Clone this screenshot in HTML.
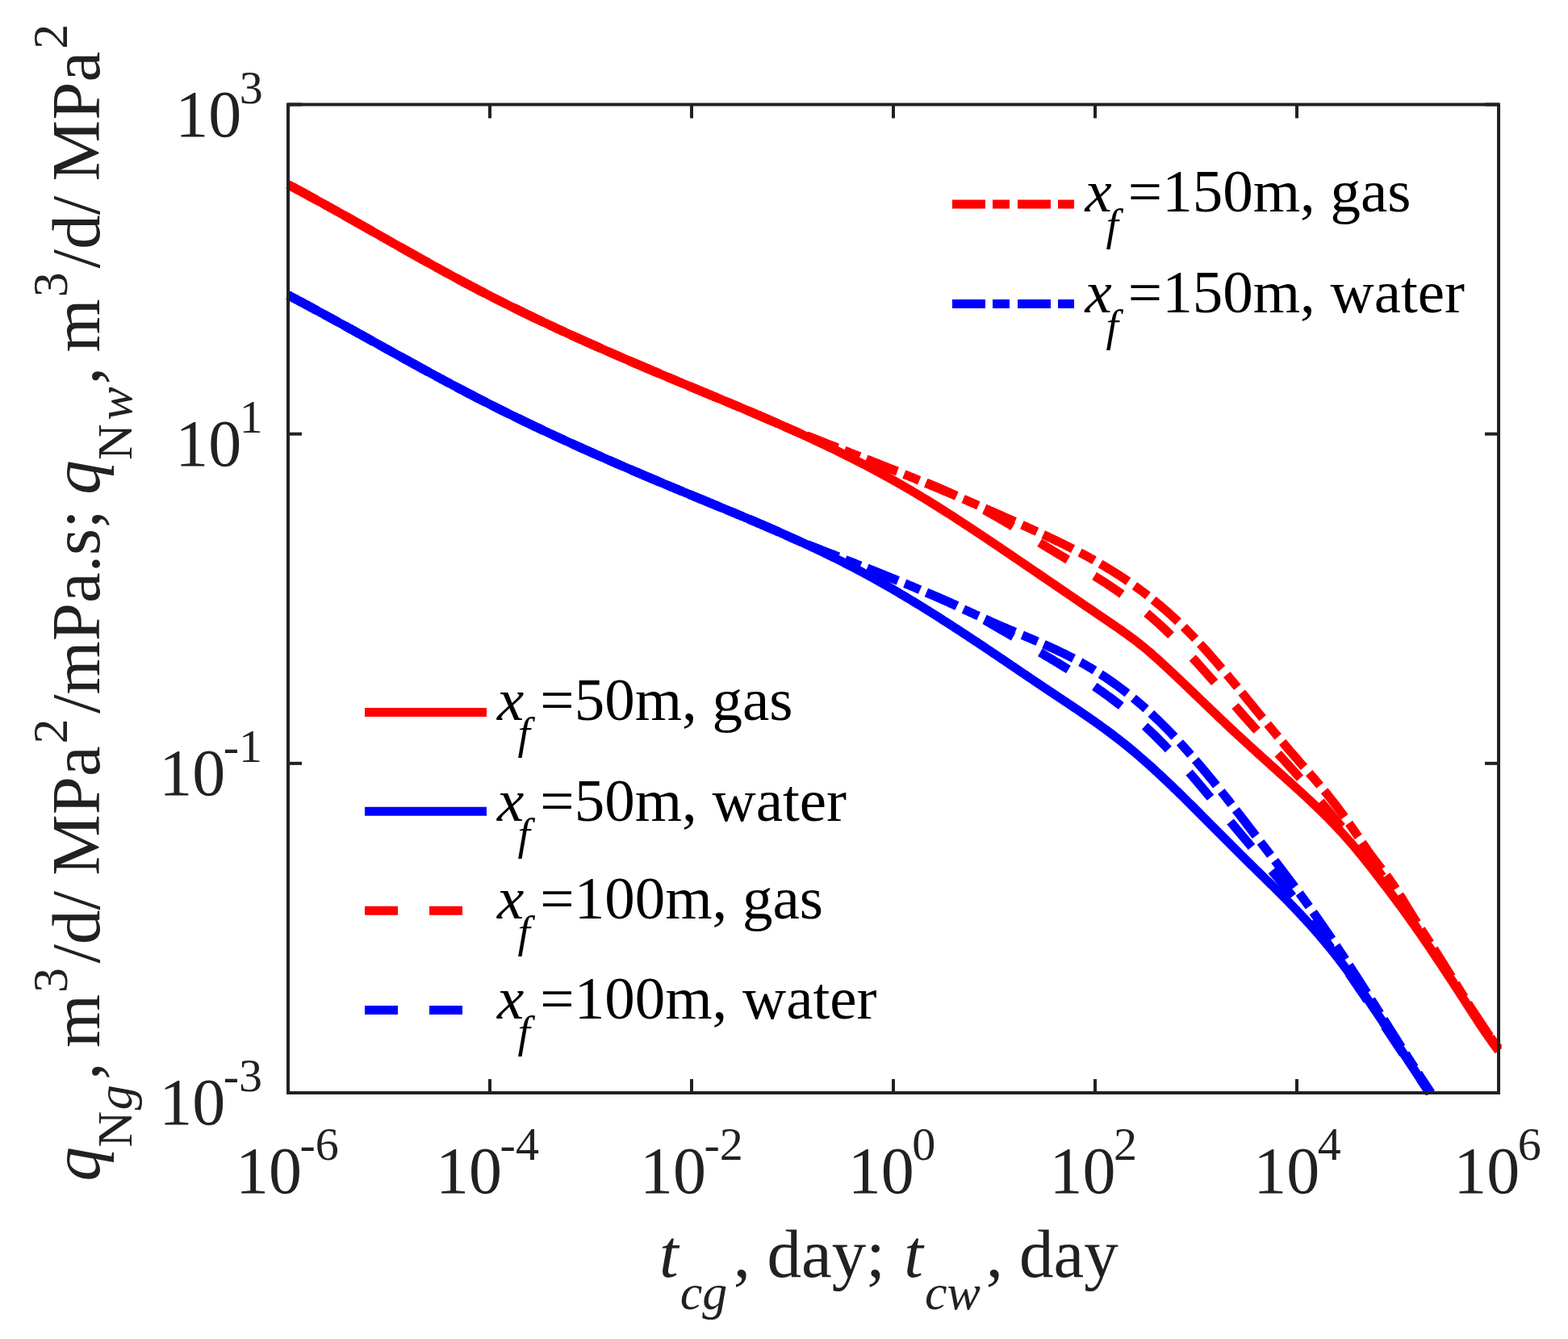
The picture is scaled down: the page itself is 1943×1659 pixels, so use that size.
<!DOCTYPE html>
<html><head><meta charset="utf-8"><title>Rate decline plot</title>
<style>
html,body{margin:0;padding:0;background:#fff;overflow:hidden;}
svg{display:block;}
text{font-family:"Liberation Serif","Times New Roman",serif;fill:#212121;}
</style></head><body>
<svg xmlns="http://www.w3.org/2000/svg" width="1943" height="1659" viewBox="0 0 1943 1659">
<rect width="1943" height="1659" fill="#fff"/>
<defs><clipPath id="pa"><rect x="349.0" y="129.5" width="1516.0" height="1232.5"/></clipPath></defs>
<g clip-path="url(#pa)" fill="none" stroke-width="11" stroke-linejoin="round">
<path d="M357.00,228.70 L359.00,229.76 L361.00,230.83 L363.00,231.90 L365.00,232.97 L367.00,234.05 L369.00,235.12 L371.00,236.20 L373.00,237.29 L375.00,238.37 L377.00,239.45 L379.00,240.54 L381.00,241.63 L383.00,242.72 L385.00,243.82 L387.00,244.91 L389.00,246.01 L391.00,247.11 L393.00,248.21 L395.00,249.32 L397.00,250.42 L399.00,251.53 L401.00,252.63 L403.00,253.74 L405.00,254.85 L407.00,255.97 L409.00,257.08 L411.00,258.19 L413.00,259.31 L415.00,260.43 L417.00,261.55 L419.00,262.67 L421.00,263.79 L423.00,264.91 L425.00,266.03 L427.00,267.16 L429.00,268.28 L431.00,269.41 L433.00,270.53 L435.00,271.66 L437.00,272.79 L439.00,273.92 L441.00,275.05 L443.00,276.18 L445.00,277.31 L447.00,278.44 L449.00,279.57 L451.00,280.70 L453.00,281.83 L455.00,282.97 L457.00,284.10 L459.00,285.23 L461.00,286.36 L463.00,287.50 L465.00,288.63 L467.00,289.77 L469.00,290.90 L471.00,292.03 L473.00,293.17 L475.00,294.30 L477.00,295.43 L479.00,296.57 L481.00,297.70 L483.00,298.83 L485.00,299.96 L487.00,301.09 L489.00,302.22 L491.00,303.36 L493.00,304.49 L495.00,305.61 L497.00,306.74 L499.00,307.87 L501.00,309.00 L503.00,310.13 L505.00,311.25 L507.00,312.38 L509.00,313.50 L511.00,314.62 L513.00,315.75 L515.00,316.87 L517.00,317.99 L519.00,319.11 L521.00,320.22 L523.00,321.34 L525.00,322.45 L527.00,323.57 L529.00,324.68 L531.00,325.79 L533.00,326.90 L535.00,328.01 L537.00,329.12 L539.00,330.22 L541.00,331.32 L543.00,332.42 L545.00,333.52 L547.00,334.62 L549.00,335.72 L551.00,336.81 L553.00,337.90 L555.00,339.00 L557.00,340.08 L559.00,341.17 L561.00,342.25 L563.00,343.34 L565.00,344.42 L567.00,345.49 L569.00,346.57 L571.00,347.64 L573.00,348.71 L575.00,349.78 L577.00,350.85 L579.00,351.91 L581.00,352.97 L583.00,354.03 L585.00,355.08 L587.00,356.14 L589.00,357.19 L591.00,358.23 L593.00,359.28 L595.00,360.32 L597.00,361.36 L599.00,362.39 L601.00,363.43 L603.00,364.46 L605.00,365.48 L607.00,366.51 L609.00,367.53 L611.00,368.55 L613.00,369.57 L615.00,370.58 L617.00,371.59 L619.00,372.60 L621.00,373.61 L623.00,374.62 L625.00,375.62 L627.00,376.62 L629.00,377.61 L631.00,378.61 L633.00,379.60 L635.00,380.59 L637.00,381.58 L639.00,382.56 L641.00,383.54 L643.00,384.52 L645.00,385.50 L647.00,386.48 L649.00,387.45 L651.00,388.42 L653.00,389.39 L655.00,390.35 L657.00,391.32 L659.00,392.28 L661.00,393.24 L663.00,394.20 L665.00,395.15 L667.00,396.11 L669.00,397.06 L671.00,398.01 L673.00,398.95 L675.00,399.90 L677.00,400.84 L679.00,401.78 L681.00,402.72 L683.00,403.66 L685.00,404.59 L687.00,405.52 L689.00,406.46 L691.00,407.38 L693.00,408.31 L695.00,409.24 L697.00,410.16 L699.00,411.08 L701.00,412.00 L703.00,412.92 L705.00,413.84 L707.00,414.75 L709.00,415.66 L711.00,416.57 L713.00,417.48 L715.00,418.39 L717.00,419.30 L719.00,420.20 L721.00,421.10 L723.00,422.00 L725.00,422.90 L727.00,423.80 L729.00,424.70 L731.00,425.59 L733.00,426.48 L735.00,427.38 L737.00,428.27 L739.00,429.15 L741.00,430.04 L743.00,430.93 L745.00,431.81 L747.00,432.69 L749.00,433.58 L751.00,434.46 L753.00,435.34 L755.00,436.21 L757.00,437.09 L759.00,437.96 L761.00,438.84 L763.00,439.71 L765.00,440.58 L767.00,441.45 L769.00,442.32 L771.00,443.19 L773.00,444.05 L775.00,444.92 L777.00,445.78 L779.00,446.65 L781.00,447.51 L783.00,448.37 L785.00,449.23 L787.00,450.09 L789.00,450.94 L791.00,451.80 L793.00,452.66 L795.00,453.51 L797.00,454.37 L799.00,455.22 L801.00,456.07 L803.00,456.92 L805.00,457.77 L807.00,458.62 L809.00,459.47 L811.00,460.32 L813.00,461.17 L815.00,462.01 L817.00,462.86 L819.00,463.70 L821.00,464.55 L823.00,465.39 L825.00,466.23 L827.00,467.07 L829.00,467.91 L831.00,468.75 L833.00,469.59 L835.00,470.43 L837.00,471.27 L839.00,472.11 L841.00,472.95 L843.00,473.79 L845.00,474.62 L847.00,475.46 L849.00,476.30 L851.00,477.13 L853.00,477.97 L855.00,478.80 L857.00,479.63 L859.00,480.47 L861.00,481.30 L863.00,482.14 L865.00,482.97 L867.00,483.80 L869.00,484.63 L871.00,485.47 L873.00,486.30 L875.00,487.13 L877.00,487.97 L879.00,488.80 L881.00,489.63 L883.00,490.47 L885.00,491.30 L887.00,492.13 L889.00,492.97 L891.00,493.80 L893.00,494.64 L895.00,495.48 L897.00,496.31 L899.00,497.15 L901.00,497.99 L903.00,498.82 L905.00,499.66 L907.00,500.50 L909.00,501.34 L911.00,502.18 L913.00,503.02 L915.00,503.87 L917.00,504.71 L919.00,505.55 L921.00,506.40 L923.00,507.25 L925.00,508.09 L927.00,508.94 L929.00,509.79 L931.00,510.64 L933.00,511.49 L935.00,512.35 L937.00,513.20 L939.00,514.06 L941.00,514.92 L943.00,515.78 L945.00,516.64 L947.00,517.50 L949.00,518.36 L951.00,519.23 L953.00,520.09 L955.00,520.96 L957.00,521.83 L959.00,522.71 L961.00,523.58 L963.00,524.46 L965.00,525.33 L967.00,526.21 L969.00,527.09 L971.00,527.98 L973.00,528.86 L975.00,529.75 L977.00,530.64 L979.00,531.53 L981.00,532.43 L983.00,533.33 L985.00,534.22 L987.00,535.13 L989.00,536.03 L991.00,536.94 L993.00,537.84 L995.00,538.76 L997.00,539.67 L999.00,540.59 L1001.00,541.51 L1003.00,542.43 L1005.00,543.35 L1007.00,544.28 L1009.00,545.21 L1011.00,546.14 L1013.00,547.08 L1015.00,548.02 L1017.00,548.96 L1019.00,549.90 L1021.00,550.85 L1023.00,551.80 L1025.00,552.76 L1027.00,553.71 L1029.00,554.68 L1031.00,555.64 L1033.00,556.61 L1035.00,557.58 L1037.00,558.55 L1039.00,559.53 L1041.00,560.51 L1043.00,561.49 L1045.00,562.48 L1047.00,563.47 L1049.00,564.47 L1051.00,565.47 L1053.00,566.47 L1055.00,567.48 L1057.00,568.49 L1059.00,569.50 L1061.00,570.52 L1063.00,571.54 L1065.00,572.57 L1067.00,573.60 L1069.00,574.63 L1071.00,575.67 L1073.00,576.71 L1075.00,577.76 L1077.00,578.81 L1079.00,579.86 L1081.00,580.92 L1083.00,581.99 L1085.00,583.06 L1087.00,584.13 L1089.00,585.21 L1091.00,586.29 L1093.00,587.37 L1095.00,588.46 L1097.00,589.56 L1099.00,590.66 L1101.00,591.76 L1103.00,592.87 L1105.00,593.99 L1107.00,595.11 L1109.00,596.23 L1111.00,597.36 L1113.00,598.49 L1115.00,599.63 L1117.00,600.78 L1119.00,601.93 L1121.00,603.08 L1123.00,604.24 L1125.00,605.41 L1127.00,606.58 L1129.00,607.75 L1131.00,608.93 L1133.00,610.12 L1135.00,611.31 L1137.00,612.50 L1139.00,613.71 L1141.00,614.91 L1143.00,616.12 L1145.00,617.34 L1147.00,618.56 L1149.00,619.78 L1151.00,621.01 L1153.00,622.25 L1155.00,623.49 L1157.00,624.73 L1159.00,625.98 L1161.00,627.23 L1163.00,628.48 L1165.00,629.74 L1167.00,631.01 L1169.00,632.27 L1171.00,633.54 L1173.00,634.82 L1175.00,636.10 L1177.00,637.38 L1179.00,638.66 L1181.00,639.95 L1183.00,641.24 L1185.00,642.54 L1187.00,643.84 L1189.00,645.14 L1191.00,646.44 L1193.00,647.75 L1195.00,649.06 L1197.00,650.37 L1199.00,651.69 L1201.00,653.00 L1203.00,654.32 L1205.00,655.65 L1207.00,656.97 L1209.00,658.30 L1211.00,659.63 L1213.00,660.96 L1215.00,662.29 L1217.00,663.63 L1219.00,664.96 L1221.00,666.30 L1223.00,667.64 L1225.00,668.98 L1227.00,670.33 L1229.00,671.67 L1231.00,673.02 L1233.00,674.37 L1235.00,675.71 L1237.00,677.06 L1239.00,678.41 L1241.00,679.77 L1243.00,681.12 L1245.00,682.47 L1247.00,683.83 L1249.00,685.18 L1251.00,686.54 L1253.00,687.89 L1255.00,689.25 L1257.00,690.61 L1259.00,691.96 L1261.00,693.32 L1263.00,694.68 L1265.00,696.04 L1267.00,697.40 L1269.00,698.76 L1271.00,700.12 L1273.00,701.48 L1275.00,702.84 L1277.00,704.20 L1279.00,705.56 L1281.00,706.93 L1283.00,708.29 L1285.00,709.65 L1287.00,711.01 L1289.00,712.38 L1291.00,713.74 L1293.00,715.11 L1295.00,716.47 L1297.00,717.83 L1299.00,719.20 L1301.00,720.56 L1303.00,721.93 L1305.00,723.29 L1307.00,724.66 L1309.00,726.02 L1311.00,727.39 L1313.00,728.75 L1315.00,730.12 L1317.00,731.48 L1319.00,732.85 L1321.00,734.21 L1323.00,735.57 L1325.00,736.94 L1327.00,738.30 L1329.00,739.67 L1331.00,741.03 L1333.00,742.40 L1335.00,743.76 L1337.00,745.13 L1339.00,746.49 L1341.00,747.85 L1343.00,749.22 L1345.00,750.58 L1347.00,751.94 L1349.00,753.31 L1351.00,754.67 L1353.00,756.03 L1355.00,757.39 L1357.00,758.75 L1359.00,760.11 L1361.00,761.48 L1363.00,762.84 L1365.00,764.20 L1367.00,765.55 L1369.00,766.91 L1371.00,768.27 L1373.00,769.63 L1375.00,770.99 L1377.00,772.35 L1379.00,773.72 L1381.00,775.09 L1383.00,776.46 L1385.00,777.84 L1387.00,779.23 L1389.00,780.62 L1391.00,782.03 L1393.00,783.44 L1395.00,784.87 L1397.00,786.31 L1399.00,787.76 L1401.00,789.23 L1403.00,790.71 L1405.00,792.20 L1407.00,793.72 L1409.00,795.25 L1411.00,796.81 L1413.00,798.38 L1415.00,799.97 L1417.00,801.59 L1419.00,803.23 L1421.00,804.90 L1423.00,806.59 L1425.00,808.30 L1427.00,810.03 L1429.00,811.78 L1431.00,813.54 L1433.00,815.33 L1435.00,817.13 L1437.00,818.94 L1439.00,820.76 L1441.00,822.60 L1443.00,824.45 L1445.00,826.30 L1447.00,828.16 L1449.00,830.03 L1451.00,831.90 L1453.00,833.78 L1455.00,835.66 L1457.00,837.55 L1459.00,839.44 L1461.00,841.33 L1463.00,843.23 L1465.00,845.13 L1467.00,847.04 L1469.00,848.94 L1471.00,850.85 L1473.00,852.76 L1475.00,854.68 L1477.00,856.59 L1479.00,858.51 L1481.00,860.43 L1483.00,862.34 L1485.00,864.26 L1487.00,866.18 L1489.00,868.10 L1491.00,870.02 L1493.00,871.94 L1495.00,873.86 L1497.00,875.78 L1499.00,877.69 L1501.00,879.61 L1503.00,881.52 L1505.00,883.44 L1507.00,885.34 L1509.00,887.25 L1511.00,889.16 L1513.00,891.06 L1515.00,892.95 L1517.00,894.85 L1519.00,896.74 L1521.00,898.63 L1523.00,900.51 L1525.00,902.39 L1527.00,904.26 L1529.00,906.13 L1531.00,907.99 L1533.00,909.85 L1535.00,911.70 L1537.00,913.55 L1539.00,915.39 L1541.00,917.23 L1543.00,919.07 L1545.00,920.90 L1547.00,922.72 L1549.00,924.55 L1551.00,926.37 L1553.00,928.19 L1555.00,930.00 L1557.00,931.81 L1559.00,933.63 L1561.00,935.43 L1563.00,937.24 L1565.00,939.04 L1567.00,940.85 L1569.00,942.65 L1571.00,944.45 L1573.00,946.25 L1575.00,948.05 L1577.00,949.84 L1579.00,951.64 L1581.00,953.44 L1583.00,955.24 L1585.00,957.04 L1587.00,958.84 L1589.00,960.63 L1591.00,962.44 L1593.00,964.24 L1595.00,966.04 L1597.00,967.85 L1599.00,969.65 L1601.00,971.46 L1603.00,973.27 L1605.00,975.09 L1607.00,976.90 L1609.00,978.73 L1611.00,980.55 L1613.00,982.39 L1615.00,984.22 L1617.00,986.07 L1619.00,987.92 L1621.00,989.79 L1623.00,991.66 L1625.00,993.54 L1627.00,995.42 L1629.00,997.33 L1631.00,999.24 L1633.00,1001.16 L1635.00,1003.10 L1637.00,1005.05 L1639.00,1007.01 L1641.00,1008.99 L1643.00,1010.98 L1645.00,1012.99 L1647.00,1015.01 L1649.00,1017.06 L1651.00,1019.12 L1653.00,1021.19 L1655.00,1023.29 L1657.00,1025.41 L1659.00,1027.54 L1661.00,1029.70 L1663.00,1031.88 L1665.00,1034.08 L1667.00,1036.31 L1669.00,1038.55 L1671.00,1040.82 L1673.00,1043.12 L1675.00,1045.44 L1677.00,1047.78 L1679.00,1050.15 L1681.00,1052.54 L1683.00,1054.95 L1685.00,1057.38 L1687.00,1059.83 L1689.00,1062.29 L1691.00,1064.78 L1693.00,1067.28 L1695.00,1069.79 L1697.00,1072.32 L1699.00,1074.86 L1701.00,1077.41 L1703.00,1079.98 L1705.00,1082.55 L1707.00,1085.14 L1709.00,1087.73 L1711.00,1090.33 L1713.00,1092.93 L1715.00,1095.55 L1717.00,1098.16 L1719.00,1100.78 L1721.00,1103.41 L1723.00,1106.04 L1725.00,1108.68 L1727.00,1111.34 L1729.00,1114.00 L1731.00,1116.68 L1733.00,1119.38 L1735.00,1122.09 L1737.00,1124.81 L1739.00,1127.55 L1741.00,1130.31 L1743.00,1133.08 L1745.00,1135.86 L1747.00,1138.66 L1749.00,1141.47 L1751.00,1144.29 L1753.00,1147.13 L1755.00,1149.97 L1757.00,1152.83 L1759.00,1155.71 L1761.00,1158.59 L1763.00,1161.49 L1765.00,1164.39 L1767.00,1167.31 L1769.00,1170.24 L1771.00,1173.18 L1773.00,1176.13 L1775.00,1179.09 L1777.00,1182.06 L1779.00,1185.04 L1781.00,1188.02 L1783.00,1191.02 L1785.00,1194.03 L1787.00,1197.04 L1789.00,1200.06 L1791.00,1203.09 L1793.00,1206.13 L1795.00,1209.17 L1797.00,1212.23 L1799.00,1215.28 L1801.00,1218.35 L1803.00,1221.42 L1805.00,1224.50 L1807.00,1227.58 L1809.00,1230.67 L1811.00,1233.77 L1813.00,1236.87 L1815.00,1239.97 L1817.00,1243.07 L1819.00,1246.17 L1821.00,1249.27 L1823.00,1252.36 L1825.00,1255.44 L1827.00,1258.51 L1829.00,1261.57 L1831.00,1264.62 L1833.00,1267.65 L1835.00,1270.66 L1837.00,1273.65 L1839.00,1276.61 L1841.00,1279.55 L1843.00,1282.47 L1845.00,1285.35 L1847.00,1288.20 L1849.00,1291.02 L1851.00,1293.80 L1853.00,1296.54 L1855.00,1299.24 L1857.00,1301.90" stroke="#ff0000"/>
<path d="M357.00,365.63 L359.00,366.68 L361.00,367.74 L363.00,368.80 L365.00,369.86 L367.00,370.92 L369.00,371.99 L371.00,373.05 L373.00,374.12 L375.00,375.19 L377.00,376.26 L379.00,377.33 L381.00,378.41 L383.00,379.48 L385.00,380.56 L387.00,381.64 L389.00,382.72 L391.00,383.81 L393.00,384.89 L395.00,385.98 L397.00,387.06 L399.00,388.15 L401.00,389.24 L403.00,390.33 L405.00,391.42 L407.00,392.52 L409.00,393.61 L411.00,394.70 L413.00,395.80 L415.00,396.90 L417.00,398.00 L419.00,399.10 L421.00,400.20 L423.00,401.30 L425.00,402.40 L427.00,403.50 L429.00,404.61 L431.00,405.71 L433.00,406.81 L435.00,407.92 L437.00,409.03 L439.00,410.13 L441.00,411.24 L443.00,412.35 L445.00,413.45 L447.00,414.56 L449.00,415.67 L451.00,416.78 L453.00,417.89 L455.00,419.00 L457.00,420.11 L459.00,421.22 L461.00,422.33 L463.00,423.44 L465.00,424.55 L467.00,425.66 L469.00,426.77 L471.00,427.88 L473.00,428.99 L475.00,430.10 L477.00,431.21 L479.00,432.31 L481.00,433.42 L483.00,434.53 L485.00,435.64 L487.00,436.75 L489.00,437.85 L491.00,438.96 L493.00,440.07 L495.00,441.17 L497.00,442.28 L499.00,443.38 L501.00,444.49 L503.00,445.59 L505.00,446.69 L507.00,447.79 L509.00,448.89 L511.00,449.99 L513.00,451.09 L515.00,452.19 L517.00,453.29 L519.00,454.38 L521.00,455.48 L523.00,456.57 L525.00,457.66 L527.00,458.75 L529.00,459.84 L531.00,460.93 L533.00,462.02 L535.00,463.11 L537.00,464.19 L539.00,465.27 L541.00,466.36 L543.00,467.44 L545.00,468.52 L547.00,469.59 L549.00,470.67 L551.00,471.74 L553.00,472.81 L555.00,473.88 L557.00,474.95 L559.00,476.02 L561.00,477.08 L563.00,478.15 L565.00,479.21 L567.00,480.27 L569.00,481.33 L571.00,482.38 L573.00,483.43 L575.00,484.48 L577.00,485.53 L579.00,486.58 L581.00,487.62 L583.00,488.66 L585.00,489.70 L587.00,490.74 L589.00,491.78 L591.00,492.81 L593.00,493.84 L595.00,494.87 L597.00,495.89 L599.00,496.91 L601.00,497.93 L603.00,498.95 L605.00,499.97 L607.00,500.98 L609.00,501.99 L611.00,503.00 L613.00,504.00 L615.00,505.01 L617.00,506.01 L619.00,507.01 L621.00,508.00 L623.00,509.00 L625.00,509.99 L627.00,510.98 L629.00,511.97 L631.00,512.95 L633.00,513.94 L635.00,514.92 L637.00,515.90 L639.00,516.88 L641.00,517.85 L643.00,518.82 L645.00,519.79 L647.00,520.76 L649.00,521.73 L651.00,522.69 L653.00,523.66 L655.00,524.62 L657.00,525.57 L659.00,526.53 L661.00,527.48 L663.00,528.44 L665.00,529.39 L667.00,530.34 L669.00,531.28 L671.00,532.23 L673.00,533.17 L675.00,534.11 L677.00,535.05 L679.00,535.99 L681.00,536.92 L683.00,537.86 L685.00,538.79 L687.00,539.72 L689.00,540.64 L691.00,541.57 L693.00,542.50 L695.00,543.42 L697.00,544.34 L699.00,545.26 L701.00,546.18 L703.00,547.09 L705.00,548.01 L707.00,548.92 L709.00,549.83 L711.00,550.74 L713.00,551.65 L715.00,552.55 L717.00,553.46 L719.00,554.36 L721.00,555.26 L723.00,556.16 L725.00,557.06 L727.00,557.96 L729.00,558.85 L731.00,559.74 L733.00,560.64 L735.00,561.53 L737.00,562.42 L739.00,563.30 L741.00,564.19 L743.00,565.08 L745.00,565.96 L747.00,566.84 L749.00,567.72 L751.00,568.60 L753.00,569.48 L755.00,570.36 L757.00,571.23 L759.00,572.11 L761.00,572.98 L763.00,573.85 L765.00,574.72 L767.00,575.59 L769.00,576.46 L771.00,577.33 L773.00,578.19 L775.00,579.06 L777.00,579.92 L779.00,580.78 L781.00,581.64 L783.00,582.50 L785.00,583.36 L787.00,584.22 L789.00,585.08 L791.00,585.93 L793.00,586.79 L795.00,587.64 L797.00,588.49 L799.00,589.34 L801.00,590.19 L803.00,591.04 L805.00,591.89 L807.00,592.74 L809.00,593.59 L811.00,594.43 L813.00,595.28 L815.00,596.12 L817.00,596.96 L819.00,597.81 L821.00,598.65 L823.00,599.49 L825.00,600.33 L827.00,601.17 L829.00,602.00 L831.00,602.84 L833.00,603.68 L835.00,604.51 L837.00,605.35 L839.00,606.18 L841.00,607.02 L843.00,607.85 L845.00,608.68 L847.00,609.51 L849.00,610.34 L851.00,611.17 L853.00,612.00 L855.00,612.83 L857.00,613.66 L859.00,614.49 L861.00,615.32 L863.00,616.14 L865.00,616.97 L867.00,617.80 L869.00,618.62 L871.00,619.45 L873.00,620.28 L875.00,621.10 L877.00,621.93 L879.00,622.75 L881.00,623.58 L883.00,624.41 L885.00,625.23 L887.00,626.06 L889.00,626.89 L891.00,627.72 L893.00,628.55 L895.00,629.37 L897.00,630.20 L899.00,631.03 L901.00,631.86 L903.00,632.70 L905.00,633.53 L907.00,634.36 L909.00,635.19 L911.00,636.03 L913.00,636.86 L915.00,637.70 L917.00,638.54 L919.00,639.38 L921.00,640.22 L923.00,641.06 L925.00,641.90 L927.00,642.74 L929.00,643.59 L931.00,644.43 L933.00,645.28 L935.00,646.13 L937.00,646.98 L939.00,647.83 L941.00,648.69 L943.00,649.54 L945.00,650.40 L947.00,651.26 L949.00,652.12 L951.00,652.99 L953.00,653.85 L955.00,654.72 L957.00,655.59 L959.00,656.46 L961.00,657.33 L963.00,658.21 L965.00,659.09 L967.00,659.97 L969.00,660.85 L971.00,661.74 L973.00,662.63 L975.00,663.52 L977.00,664.41 L979.00,665.31 L981.00,666.21 L983.00,667.11 L985.00,668.01 L987.00,668.92 L989.00,669.83 L991.00,670.74 L993.00,671.66 L995.00,672.58 L997.00,673.50 L999.00,674.43 L1001.00,675.35 L1003.00,676.29 L1005.00,677.22 L1007.00,678.16 L1009.00,679.10 L1011.00,680.05 L1013.00,681.00 L1015.00,681.95 L1017.00,682.91 L1019.00,683.87 L1021.00,684.83 L1023.00,685.80 L1025.00,686.77 L1027.00,687.75 L1029.00,688.73 L1031.00,689.71 L1033.00,690.70 L1035.00,691.69 L1037.00,692.69 L1039.00,693.69 L1041.00,694.69 L1043.00,695.70 L1045.00,696.71 L1047.00,697.73 L1049.00,698.75 L1051.00,699.78 L1053.00,700.81 L1055.00,701.85 L1057.00,702.89 L1059.00,703.93 L1061.00,704.98 L1063.00,706.04 L1065.00,707.10 L1067.00,708.16 L1069.00,709.23 L1071.00,710.31 L1073.00,711.39 L1075.00,712.47 L1077.00,713.56 L1079.00,714.66 L1081.00,715.76 L1083.00,716.87 L1085.00,717.98 L1087.00,719.09 L1089.00,720.21 L1091.00,721.34 L1093.00,722.47 L1095.00,723.61 L1097.00,724.75 L1099.00,725.89 L1101.00,727.04 L1103.00,728.19 L1105.00,729.35 L1107.00,730.51 L1109.00,731.68 L1111.00,732.85 L1113.00,734.03 L1115.00,735.21 L1117.00,736.39 L1119.00,737.58 L1121.00,738.78 L1123.00,739.97 L1125.00,741.17 L1127.00,742.38 L1129.00,743.59 L1131.00,744.80 L1133.00,746.02 L1135.00,747.24 L1137.00,748.46 L1139.00,749.69 L1141.00,750.92 L1143.00,752.16 L1145.00,753.40 L1147.00,754.64 L1149.00,755.88 L1151.00,757.13 L1153.00,758.39 L1155.00,759.64 L1157.00,760.90 L1159.00,762.16 L1161.00,763.43 L1163.00,764.70 L1165.00,765.97 L1167.00,767.24 L1169.00,768.52 L1171.00,769.80 L1173.00,771.09 L1175.00,772.37 L1177.00,773.66 L1179.00,774.95 L1181.00,776.25 L1183.00,777.55 L1185.00,778.84 L1187.00,780.15 L1189.00,781.45 L1191.00,782.76 L1193.00,784.07 L1195.00,785.38 L1197.00,786.69 L1199.00,788.01 L1201.00,789.33 L1203.00,790.65 L1205.00,791.97 L1207.00,793.30 L1209.00,794.62 L1211.00,795.95 L1213.00,797.28 L1215.00,798.62 L1217.00,799.95 L1219.00,801.29 L1221.00,802.63 L1223.00,803.96 L1225.00,805.31 L1227.00,806.65 L1229.00,807.99 L1231.00,809.34 L1233.00,810.68 L1235.00,812.03 L1237.00,813.38 L1239.00,814.73 L1241.00,816.08 L1243.00,817.43 L1245.00,818.79 L1247.00,820.14 L1249.00,821.49 L1251.00,822.85 L1253.00,824.20 L1255.00,825.56 L1257.00,826.91 L1259.00,828.27 L1261.00,829.62 L1263.00,830.98 L1265.00,832.33 L1267.00,833.69 L1269.00,835.04 L1271.00,836.39 L1273.00,837.75 L1275.00,839.10 L1277.00,840.45 L1279.00,841.80 L1281.00,843.15 L1283.00,844.50 L1285.00,845.85 L1287.00,847.19 L1289.00,848.54 L1291.00,849.88 L1293.00,851.23 L1295.00,852.57 L1297.00,853.91 L1299.00,855.24 L1301.00,856.58 L1303.00,857.91 L1305.00,859.25 L1307.00,860.58 L1309.00,861.91 L1311.00,863.24 L1313.00,864.57 L1315.00,865.90 L1317.00,867.23 L1319.00,868.56 L1321.00,869.90 L1323.00,871.23 L1325.00,872.57 L1327.00,873.91 L1329.00,875.25 L1331.00,876.59 L1333.00,877.94 L1335.00,879.29 L1337.00,880.64 L1339.00,882.00 L1341.00,883.36 L1343.00,884.73 L1345.00,886.10 L1347.00,887.48 L1349.00,888.86 L1351.00,890.25 L1353.00,891.65 L1355.00,893.05 L1357.00,894.46 L1359.00,895.88 L1361.00,897.30 L1363.00,898.74 L1365.00,900.18 L1367.00,901.63 L1369.00,903.09 L1371.00,904.55 L1373.00,906.03 L1375.00,907.52 L1377.00,909.02 L1379.00,910.52 L1381.00,912.04 L1383.00,913.57 L1385.00,915.11 L1387.00,916.67 L1389.00,918.23 L1391.00,919.81 L1393.00,921.40 L1395.00,923.01 L1397.00,924.62 L1399.00,926.26 L1401.00,927.90 L1403.00,929.56 L1405.00,931.23 L1407.00,932.92 L1409.00,934.62 L1411.00,936.33 L1413.00,938.05 L1415.00,939.79 L1417.00,941.54 L1419.00,943.30 L1421.00,945.07 L1423.00,946.85 L1425.00,948.65 L1427.00,950.45 L1429.00,952.27 L1431.00,954.09 L1433.00,955.93 L1435.00,957.77 L1437.00,959.63 L1439.00,961.49 L1441.00,963.36 L1443.00,965.24 L1445.00,967.13 L1447.00,969.03 L1449.00,970.93 L1451.00,972.84 L1453.00,974.76 L1455.00,976.69 L1457.00,978.62 L1459.00,980.56 L1461.00,982.51 L1463.00,984.46 L1465.00,986.42 L1467.00,988.38 L1469.00,990.35 L1471.00,992.32 L1473.00,994.30 L1475.00,996.28 L1477.00,998.27 L1479.00,1000.26 L1481.00,1002.25 L1483.00,1004.25 L1485.00,1006.25 L1487.00,1008.25 L1489.00,1010.26 L1491.00,1012.27 L1493.00,1014.28 L1495.00,1016.29 L1497.00,1018.30 L1499.00,1020.31 L1501.00,1022.33 L1503.00,1024.35 L1505.00,1026.36 L1507.00,1028.38 L1509.00,1030.39 L1511.00,1032.41 L1513.00,1034.42 L1515.00,1036.44 L1517.00,1038.45 L1519.00,1040.46 L1521.00,1042.47 L1523.00,1044.48 L1525.00,1046.48 L1527.00,1048.48 L1529.00,1050.48 L1531.00,1052.48 L1533.00,1054.47 L1535.00,1056.46 L1537.00,1058.44 L1539.00,1060.42 L1541.00,1062.40 L1543.00,1064.37 L1545.00,1066.34 L1547.00,1068.30 L1549.00,1070.26 L1551.00,1072.22 L1553.00,1074.18 L1555.00,1076.13 L1557.00,1078.09 L1559.00,1080.04 L1561.00,1081.99 L1563.00,1083.95 L1565.00,1085.91 L1567.00,1087.86 L1569.00,1089.82 L1571.00,1091.79 L1573.00,1093.75 L1575.00,1095.72 L1577.00,1097.69 L1579.00,1099.67 L1581.00,1101.66 L1583.00,1103.64 L1585.00,1105.64 L1587.00,1107.64 L1589.00,1109.65 L1591.00,1111.67 L1593.00,1113.69 L1595.00,1115.73 L1597.00,1117.77 L1599.00,1119.82 L1601.00,1121.89 L1603.00,1123.96 L1605.00,1126.05 L1607.00,1128.14 L1609.00,1130.25 L1611.00,1132.37 L1613.00,1134.51 L1615.00,1136.66 L1617.00,1138.82 L1619.00,1141.00 L1621.00,1143.19 L1623.00,1145.40 L1625.00,1147.63 L1627.00,1149.87 L1629.00,1152.13 L1631.00,1154.41 L1633.00,1156.71 L1635.00,1159.02 L1637.00,1161.36 L1639.00,1163.71 L1641.00,1166.08 L1643.00,1168.48 L1645.00,1170.90 L1647.00,1173.34 L1649.00,1175.80 L1651.00,1178.28 L1653.00,1180.79 L1655.00,1183.32 L1657.00,1185.88 L1659.00,1188.46 L1661.00,1191.06 L1663.00,1193.69 L1665.00,1196.35 L1667.00,1199.02 L1669.00,1201.72 L1671.00,1204.44 L1673.00,1207.18 L1675.00,1209.94 L1677.00,1212.72 L1679.00,1215.52 L1681.00,1218.33 L1683.00,1221.17 L1685.00,1224.02 L1687.00,1226.88 L1689.00,1229.77 L1691.00,1232.66 L1693.00,1235.58 L1695.00,1238.50 L1697.00,1241.44 L1699.00,1244.39 L1701.00,1247.35 L1703.00,1250.32 L1705.00,1253.30 L1707.00,1256.30 L1709.00,1259.30 L1711.00,1262.31 L1713.00,1265.33 L1715.00,1268.35 L1717.00,1271.38 L1719.00,1274.42 L1721.00,1277.46 L1723.00,1280.51 L1725.00,1283.56 L1727.00,1286.61 L1729.00,1289.66 L1731.00,1292.72 L1733.00,1295.78 L1735.00,1298.84 L1737.00,1301.90 L1739.00,1304.96 L1741.00,1308.01 L1743.00,1311.07 L1745.00,1314.12 L1747.00,1317.17 L1749.00,1320.21 L1751.00,1323.25 L1753.00,1326.29 L1755.00,1329.31 L1757.00,1332.34 L1759.00,1335.35 L1761.00,1338.36 L1763.00,1341.35 L1765.00,1344.34 L1767.00,1347.32 L1769.00,1350.29 L1771.00,1353.25 L1771.51,1354.00" stroke="#0000ff"/>
<path d="M357.00,228.70 L359.00,229.76 L361.00,230.83 L363.00,231.90 L365.00,232.97 L367.00,234.05 L369.00,235.12 L371.00,236.20 L373.00,237.29 L375.00,238.37 L377.00,239.45 L379.00,240.54 L381.00,241.63 L383.00,242.72 L385.00,243.82 L387.00,244.91 L389.00,246.01 L391.00,247.11 L393.00,248.21 L395.00,249.32 L397.00,250.42 L399.00,251.53 L401.00,252.63 L403.00,253.74 L405.00,254.85 L407.00,255.97 L409.00,257.08 L411.00,258.19 L413.00,259.31 L415.00,260.43 L417.00,261.55 L419.00,262.67 L421.00,263.79 L423.00,264.91 L425.00,266.03 L427.00,267.16 L429.00,268.28 L431.00,269.41 L433.00,270.53 L435.00,271.66 L437.00,272.79 L439.00,273.92 L441.00,275.05 L443.00,276.18 L445.00,277.31 L447.00,278.44 L449.00,279.57 L451.00,280.70 L453.00,281.83 L455.00,282.97 L457.00,284.10 L459.00,285.23 L461.00,286.36 L463.00,287.50 L465.00,288.63 L467.00,289.77 L469.00,290.90 L471.00,292.03 L473.00,293.17 L475.00,294.30 L477.00,295.43 L479.00,296.57 L481.00,297.70 L483.00,298.83 L485.00,299.96 L487.00,301.09 L489.00,302.22 L491.00,303.36 L493.00,304.49 L495.00,305.61 L497.00,306.74 L499.00,307.87 L501.00,309.00 L503.00,310.13 L505.00,311.25 L507.00,312.38 L509.00,313.50 L511.00,314.62 L513.00,315.75 L515.00,316.87 L517.00,317.99 L519.00,319.11 L521.00,320.22 L523.00,321.34 L525.00,322.45 L527.00,323.57 L529.00,324.68 L531.00,325.79 L533.00,326.90 L535.00,328.01 L537.00,329.12 L539.00,330.22 L541.00,331.32 L543.00,332.42 L545.00,333.52 L547.00,334.62 L549.00,335.72 L551.00,336.81 L553.00,337.90 L555.00,339.00 L557.00,340.08 L559.00,341.17 L561.00,342.25 L563.00,343.34 L565.00,344.42 L567.00,345.49 L569.00,346.57 L571.00,347.64 L573.00,348.71 L575.00,349.78 L577.00,350.85 L579.00,351.91 L581.00,352.97 L583.00,354.03 L585.00,355.08 L587.00,356.14 L589.00,357.19 L591.00,358.23 L593.00,359.28 L595.00,360.32 L597.00,361.36 L599.00,362.39 L601.00,363.43 L603.00,364.46 L605.00,365.48 L607.00,366.51 L609.00,367.53 L611.00,368.55 L613.00,369.57 L615.00,370.58 L617.00,371.59 L619.00,372.60 L621.00,373.61 L623.00,374.62 L625.00,375.62 L627.00,376.62 L629.00,377.61 L631.00,378.61 L633.00,379.60 L635.00,380.59 L637.00,381.58 L639.00,382.56 L641.00,383.54 L643.00,384.52 L645.00,385.50 L647.00,386.48 L649.00,387.45 L651.00,388.42 L653.00,389.39 L655.00,390.35 L657.00,391.32 L659.00,392.28 L661.00,393.24 L663.00,394.20 L665.00,395.15 L667.00,396.11 L669.00,397.06 L671.00,398.01 L673.00,398.95 L675.00,399.90 L677.00,400.84 L679.00,401.78 L681.00,402.72 L683.00,403.66 L685.00,404.59 L687.00,405.52 L689.00,406.46 L691.00,407.38 L693.00,408.31 L695.00,409.24 L697.00,410.16 L699.00,411.08 L701.00,412.00 L703.00,412.92 L705.00,413.84 L707.00,414.75 L709.00,415.66 L711.00,416.57 L713.00,417.48 L715.00,418.39 L717.00,419.30 L719.00,420.20 L721.00,421.10 L723.00,422.00 L725.00,422.90 L727.00,423.80 L729.00,424.70 L731.00,425.59 L733.00,426.48 L735.00,427.38 L737.00,428.27 L739.00,429.15 L741.00,430.04 L743.00,430.93 L745.00,431.81 L747.00,432.69 L749.00,433.58 L751.00,434.46 L753.00,435.34 L755.00,436.21 L757.00,437.09 L759.00,437.96 L761.00,438.84 L763.00,439.71 L765.00,440.58 L767.00,441.45 L769.00,442.32 L771.00,443.19 L773.00,444.05 L775.00,444.92 L777.00,445.78 L779.00,446.65 L781.00,447.51 L783.00,448.37 L785.00,449.23 L787.00,450.09 L789.00,450.94 L791.00,451.80 L793.00,452.66 L795.00,453.51 L797.00,454.37 L799.00,455.22 L801.00,456.07 L803.00,456.92 L805.00,457.77 L807.00,458.62 L809.00,459.47 L811.00,460.32 L813.00,461.17 L815.00,462.01 L817.00,462.86 L819.00,463.70 L821.00,464.55 L823.00,465.39 L825.00,466.23 L827.00,467.07 L829.00,467.91 L831.00,468.75 L833.00,469.59 L835.00,470.43 L837.00,471.27 L839.00,472.11 L841.00,472.95 L843.00,473.79 L845.00,474.62 L847.00,475.46 L849.00,476.30 L851.00,477.13 L853.00,477.97 L855.00,478.80 L857.00,479.63 L859.00,480.47 L861.00,481.30 L863.00,482.14 L865.00,482.97 L867.00,483.80 L869.00,484.63 L871.00,485.47 L873.00,486.30 L875.00,487.13 L877.00,487.97 L879.00,488.80 L881.00,489.63 L883.00,490.47 L885.00,491.30 L887.00,492.13 L889.00,492.97 L891.00,493.80 L893.00,494.64 L895.00,495.48 L897.00,496.31 L899.00,497.15 L901.00,497.99 L903.00,498.82 L905.00,499.66 L907.00,500.50 L909.00,501.34 L911.00,502.18 L913.00,503.02 L915.00,503.87 L917.00,504.71 L919.00,505.55 L921.00,506.40 L923.00,507.25 L925.00,508.09 L927.00,508.94 L929.00,509.79 L931.00,510.64 L933.00,511.49 L935.00,512.35 L937.00,513.20 L939.00,514.06 L941.00,514.92 L943.00,515.78 L945.00,516.64 L947.00,517.50 L949.00,518.36 L951.00,519.23 L953.00,520.09 L955.00,520.96 L957.00,521.83 L959.00,522.71 L961.00,523.58 L963.00,524.45 L965.00,525.33 L967.00,526.21 L969.00,527.09 L971.00,527.96 L973.00,528.84 L975.00,529.71 L977.00,530.58 L979.00,531.45 L981.00,532.31 L983.00,533.16 L985.00,534.01 L987.00,534.85 L989.00,535.69 L991.00,536.52 L993.00,537.34 L995.00,538.16 L997.00,538.97 L999.00,539.77 L1001.00,540.57 L1003.00,541.37 L1005.00,542.17 L1007.00,542.97 L1009.00,543.78 L1011.00,544.59 L1013.00,545.41 L1015.00,546.22 L1017.00,547.03 L1019.00,547.84 L1021.00,548.65 L1023.00,549.45 L1025.00,550.26 L1027.00,551.06 L1029.00,551.86 L1031.00,552.66 L1033.00,553.46 L1035.00,554.25 L1037.00,555.04 L1039.00,555.84 L1041.00,556.63 L1043.00,557.42 L1045.00,558.20 L1047.00,558.99 L1049.00,559.77 L1051.00,560.56 L1053.00,561.34 L1055.00,562.12 L1057.00,562.90 L1059.00,563.68 L1061.00,564.46 L1063.00,565.23 L1065.00,566.01 L1067.00,566.78 L1069.00,567.55 L1071.00,568.33 L1073.00,569.10 L1075.00,569.87 L1077.00,570.64 L1079.00,571.41 L1081.00,572.17 L1083.00,572.94 L1085.00,573.71 L1087.00,574.47 L1089.00,575.24 L1091.00,576.00 L1093.00,576.77 L1095.00,577.53 L1097.00,578.30 L1099.00,579.06 L1101.00,579.82 L1103.00,580.58 L1105.00,581.34 L1107.00,582.11 L1109.00,582.87 L1111.00,583.63 L1113.00,584.40 L1115.00,585.16 L1117.00,585.93 L1119.00,586.70 L1121.00,587.47 L1123.00,588.24 L1125.00,589.01 L1127.00,589.78 L1129.00,590.56 L1131.00,591.34 L1133.00,592.13 L1135.00,592.91 L1137.00,593.70 L1139.00,594.50 L1141.00,595.29 L1143.00,596.09 L1145.00,596.90 L1147.00,597.71 L1149.00,598.52 L1151.00,599.34 L1153.00,600.16 L1155.00,600.99 L1157.00,601.82 L1159.00,602.66 L1161.00,603.51 L1163.00,604.36 L1165.00,605.22 L1167.00,606.08 L1169.00,606.95 L1171.00,607.83 L1173.00,608.71 L1175.00,609.60 L1177.00,610.50 L1179.00,611.41 L1181.00,612.32 L1183.00,613.24 L1185.00,614.17 L1187.00,615.11 L1189.00,616.06 L1191.00,617.02 L1193.00,617.98 L1195.00,618.96 L1197.00,619.94 L1199.00,620.94 L1201.00,621.94 L1203.00,622.95 L1205.00,623.98 L1207.00,625.01 L1209.00,626.06 L1211.00,627.11 L1213.00,628.17 L1215.00,629.25 L1217.00,630.33 L1219.00,631.42 L1221.00,632.51 L1223.00,633.62 L1225.00,634.73 L1227.00,635.85 L1229.00,636.98 L1231.00,638.12 L1233.00,639.26 L1235.00,640.41 L1237.00,641.56 L1239.00,642.72 L1241.00,643.89 L1243.00,645.06 L1245.00,646.23 L1247.00,647.41 L1249.00,648.60 L1251.00,649.79 L1253.00,650.98 L1255.00,652.18 L1257.00,653.38 L1259.00,654.59 L1261.00,655.80 L1263.00,657.01 L1265.00,658.22 L1267.00,659.44 L1269.00,660.65 L1271.00,661.87 L1273.00,663.09 L1275.00,664.31 L1277.00,665.54 L1279.00,666.76 L1281.00,667.99 L1283.00,669.21 L1285.00,670.43 L1287.00,671.66 L1289.00,672.88 L1291.00,674.10 L1293.00,675.32 L1295.00,676.54 L1297.00,677.76 L1299.00,678.98 L1301.00,680.19 L1303.00,681.41 L1305.00,682.62 L1307.00,683.82 L1309.00,685.02 L1311.00,686.23 L1313.00,687.42 L1315.00,688.62 L1317.00,689.82 L1319.00,691.01 L1321.00,692.21 L1323.00,693.40 L1325.00,694.60 L1327.00,695.79 L1329.00,696.99 L1331.00,698.18 L1333.00,699.38 L1335.00,700.59 L1337.00,701.79 L1339.00,703.00 L1341.00,704.21 L1343.00,705.42 L1345.00,706.64 L1347.00,707.86 L1349.00,709.09 L1351.00,710.32 L1353.00,711.56 L1355.00,712.80 L1357.00,714.05 L1359.00,715.31 L1361.00,716.58 L1363.00,717.85 L1365.00,719.13 L1367.00,720.42 L1369.00,721.71 L1371.00,723.02 L1373.00,724.34 L1375.00,725.66 L1377.00,727.00 L1379.00,728.34 L1381.00,729.70 L1383.00,731.07 L1385.00,732.45 L1387.00,733.84 L1389.00,735.25 L1391.00,736.67 L1393.00,738.10 L1395.00,739.55 L1397.00,741.01 L1399.00,742.48 L1401.00,743.97 L1403.00,745.48 L1405.00,747.00 L1407.00,748.53 L1409.00,750.08 L1411.00,751.65 L1413.00,753.24 L1415.00,754.85 L1417.00,756.47 L1419.00,758.11 L1421.00,759.77 L1423.00,761.45 L1425.00,763.15 L1427.00,764.86 L1429.00,766.60 L1431.00,768.36 L1433.00,770.14 L1435.00,771.95 L1437.00,773.77 L1439.00,775.61 L1441.00,777.48 L1443.00,779.37 L1445.00,781.28 L1447.00,783.21 L1449.00,785.16 L1451.00,787.12 L1453.00,789.11 L1455.00,791.11 L1457.00,793.13 L1459.00,795.17 L1461.00,797.22 L1463.00,799.29 L1465.00,801.38 L1467.00,803.47 L1469.00,805.59 L1471.00,807.71 L1473.00,809.85 L1475.00,812.00 L1477.00,814.17 L1479.00,816.34 L1481.00,818.53 L1483.00,820.73 L1485.00,822.93 L1487.00,825.15 L1489.00,827.37 L1491.00,829.60 L1493.00,831.84 L1495.00,834.09 L1497.00,836.35 L1499.00,838.61 L1501.00,840.87 L1503.00,843.14 L1505.00,845.42 L1507.00,847.70 L1509.00,849.98 L1511.00,852.26 L1513.00,854.55 L1515.00,856.84 L1517.00,859.13 L1519.00,861.42 L1521.00,863.72 L1523.00,866.01 L1525.00,868.30 L1527.00,870.59 L1529.00,872.87 L1531.00,875.16 L1533.00,877.44 L1535.00,879.72 L1537.00,881.99 L1539.00,884.26 L1541.00,886.53 L1543.00,888.79 L1545.00,891.04 L1547.00,893.29 L1549.00,895.53 L1551.00,897.76 L1553.00,899.99 L1555.00,902.22 L1557.00,904.44 L1559.00,906.66 L1561.00,908.87 L1563.00,911.08 L1565.00,913.29 L1567.00,915.49 L1569.00,917.69 L1571.00,919.89 L1573.00,922.09 L1575.00,924.29 L1577.00,926.49 L1579.00,928.68 L1581.00,930.88 L1583.00,933.08 L1585.00,935.27 L1587.00,937.47 L1589.00,939.67 L1591.00,941.88 L1593.00,944.08 L1595.00,946.29 L1597.00,948.49 L1599.00,950.71 L1601.00,952.92 L1603.00,955.14 L1605.00,957.37 L1607.00,959.60 L1609.00,961.83 L1611.00,964.07 L1613.00,966.31 L1615.00,968.56 L1617.00,970.82 L1619.00,973.09 L1621.00,975.36 L1623.00,977.64 L1625.00,979.92 L1627.00,982.22 L1629.00,984.52 L1631.00,986.84 L1633.00,989.16 L1635.00,991.49 L1637.00,993.83 L1639.00,996.19 L1641.00,998.55 L1643.00,1000.92 L1645.00,1003.31 L1647.00,1005.71 L1649.00,1008.12 L1651.00,1010.53 L1653.00,1012.95 L1655.00,1015.37 L1657.00,1017.79 L1659.00,1020.21 L1661.00,1022.62 L1663.00,1025.02 L1665.00,1027.41 L1667.00,1029.79 L1669.00,1032.16 L1671.00,1034.50 L1673.00,1036.83 L1675.00,1039.15 L1677.00,1041.46 L1679.00,1043.76 L1681.00,1046.06 L1683.00,1048.37 L1685.00,1050.68 L1687.00,1053.01 L1689.00,1055.35 L1691.00,1057.71 L1693.00,1060.10 L1695.00,1062.51 L1697.00,1064.96 L1699.00,1067.45 L1701.00,1069.97 L1703.00,1072.54 L1705.00,1075.15 L1707.00,1077.80 L1709.00,1080.49 L1711.00,1083.21 L1713.00,1085.96 L1715.00,1088.75 L1717.00,1091.56 L1719.00,1094.41 L1721.00,1097.28 L1723.00,1100.18 L1725.00,1103.10 L1727.00,1106.04 L1729.00,1109.01 L1731.00,1111.99 L1733.00,1114.99 L1735.00,1118.00 L1737.00,1121.02 L1739.00,1124.06 L1741.00,1127.11 L1743.00,1130.16 L1745.00,1133.22 L1747.00,1136.29 L1749.00,1139.35 L1751.00,1142.42 L1753.00,1145.49 L1755.00,1148.56 L1757.00,1151.62 L1759.00,1154.67 L1761.00,1157.72 L1763.00,1160.76 L1765.00,1163.80 L1767.00,1166.82 L1769.00,1169.84 L1771.00,1172.85 L1773.00,1175.85 L1775.00,1178.85 L1777.00,1181.84 L1779.00,1184.83 L1781.00,1187.81 L1783.00,1190.78 L1785.00,1193.76 L1787.00,1196.72 L1789.00,1199.69 L1791.00,1202.65 L1793.00,1205.60 L1795.00,1208.56 L1797.00,1211.51 L1799.00,1214.45 L1801.00,1217.40 L1803.00,1220.35 L1805.00,1223.29 L1807.00,1226.23 L1809.00,1229.18 L1811.00,1232.12 L1813.00,1235.06 L1815.00,1238.00 L1817.00,1240.95 L1819.00,1243.89 L1821.00,1246.84 L1823.00,1249.79 L1825.00,1252.74 L1827.00,1255.69 L1829.00,1258.65 L1831.00,1261.60 L1833.00,1264.57 L1835.00,1267.53 L1837.00,1270.50 L1839.00,1273.48 L1841.00,1276.46 L1843.00,1279.44 L1845.00,1282.43 L1847.00,1285.43 L1849.00,1288.43 L1851.00,1291.44 L1853.00,1294.45 L1855.00,1297.47 L1857.00,1300.50" stroke="#ff0000" stroke-dasharray="41 38.5" stroke-dashoffset="0.50"/>
<path d="M357.00,365.63 L359.00,366.68 L361.00,367.74 L363.00,368.80 L365.00,369.86 L367.00,370.92 L369.00,371.99 L371.00,373.05 L373.00,374.12 L375.00,375.19 L377.00,376.26 L379.00,377.33 L381.00,378.41 L383.00,379.48 L385.00,380.56 L387.00,381.64 L389.00,382.72 L391.00,383.81 L393.00,384.89 L395.00,385.98 L397.00,387.06 L399.00,388.15 L401.00,389.24 L403.00,390.33 L405.00,391.42 L407.00,392.52 L409.00,393.61 L411.00,394.70 L413.00,395.80 L415.00,396.90 L417.00,398.00 L419.00,399.10 L421.00,400.20 L423.00,401.30 L425.00,402.40 L427.00,403.50 L429.00,404.61 L431.00,405.71 L433.00,406.81 L435.00,407.92 L437.00,409.03 L439.00,410.13 L441.00,411.24 L443.00,412.35 L445.00,413.45 L447.00,414.56 L449.00,415.67 L451.00,416.78 L453.00,417.89 L455.00,419.00 L457.00,420.11 L459.00,421.22 L461.00,422.33 L463.00,423.44 L465.00,424.55 L467.00,425.66 L469.00,426.77 L471.00,427.88 L473.00,428.99 L475.00,430.10 L477.00,431.21 L479.00,432.31 L481.00,433.42 L483.00,434.53 L485.00,435.64 L487.00,436.75 L489.00,437.85 L491.00,438.96 L493.00,440.07 L495.00,441.17 L497.00,442.28 L499.00,443.38 L501.00,444.49 L503.00,445.59 L505.00,446.69 L507.00,447.79 L509.00,448.89 L511.00,449.99 L513.00,451.09 L515.00,452.19 L517.00,453.29 L519.00,454.38 L521.00,455.48 L523.00,456.57 L525.00,457.66 L527.00,458.75 L529.00,459.84 L531.00,460.93 L533.00,462.02 L535.00,463.11 L537.00,464.19 L539.00,465.27 L541.00,466.36 L543.00,467.44 L545.00,468.52 L547.00,469.59 L549.00,470.67 L551.00,471.74 L553.00,472.81 L555.00,473.88 L557.00,474.95 L559.00,476.02 L561.00,477.08 L563.00,478.15 L565.00,479.21 L567.00,480.27 L569.00,481.33 L571.00,482.38 L573.00,483.43 L575.00,484.48 L577.00,485.53 L579.00,486.58 L581.00,487.62 L583.00,488.66 L585.00,489.70 L587.00,490.74 L589.00,491.78 L591.00,492.81 L593.00,493.84 L595.00,494.87 L597.00,495.89 L599.00,496.91 L601.00,497.93 L603.00,498.95 L605.00,499.97 L607.00,500.98 L609.00,501.99 L611.00,503.00 L613.00,504.00 L615.00,505.01 L617.00,506.01 L619.00,507.01 L621.00,508.00 L623.00,509.00 L625.00,509.99 L627.00,510.98 L629.00,511.97 L631.00,512.95 L633.00,513.94 L635.00,514.92 L637.00,515.90 L639.00,516.88 L641.00,517.85 L643.00,518.82 L645.00,519.79 L647.00,520.76 L649.00,521.73 L651.00,522.69 L653.00,523.66 L655.00,524.62 L657.00,525.57 L659.00,526.53 L661.00,527.48 L663.00,528.44 L665.00,529.39 L667.00,530.34 L669.00,531.28 L671.00,532.23 L673.00,533.17 L675.00,534.11 L677.00,535.05 L679.00,535.99 L681.00,536.92 L683.00,537.86 L685.00,538.79 L687.00,539.72 L689.00,540.64 L691.00,541.57 L693.00,542.50 L695.00,543.42 L697.00,544.34 L699.00,545.26 L701.00,546.18 L703.00,547.09 L705.00,548.01 L707.00,548.92 L709.00,549.83 L711.00,550.74 L713.00,551.65 L715.00,552.55 L717.00,553.46 L719.00,554.36 L721.00,555.26 L723.00,556.16 L725.00,557.06 L727.00,557.96 L729.00,558.85 L731.00,559.74 L733.00,560.64 L735.00,561.53 L737.00,562.42 L739.00,563.30 L741.00,564.19 L743.00,565.08 L745.00,565.96 L747.00,566.84 L749.00,567.72 L751.00,568.60 L753.00,569.48 L755.00,570.36 L757.00,571.23 L759.00,572.11 L761.00,572.98 L763.00,573.85 L765.00,574.72 L767.00,575.59 L769.00,576.46 L771.00,577.33 L773.00,578.19 L775.00,579.06 L777.00,579.92 L779.00,580.78 L781.00,581.64 L783.00,582.50 L785.00,583.36 L787.00,584.22 L789.00,585.08 L791.00,585.93 L793.00,586.79 L795.00,587.64 L797.00,588.49 L799.00,589.34 L801.00,590.19 L803.00,591.04 L805.00,591.89 L807.00,592.74 L809.00,593.59 L811.00,594.43 L813.00,595.28 L815.00,596.12 L817.00,596.96 L819.00,597.81 L821.00,598.65 L823.00,599.49 L825.00,600.33 L827.00,601.17 L829.00,602.00 L831.00,602.84 L833.00,603.68 L835.00,604.51 L837.00,605.35 L839.00,606.18 L841.00,607.02 L843.00,607.85 L845.00,608.68 L847.00,609.51 L849.00,610.34 L851.00,611.17 L853.00,612.00 L855.00,612.83 L857.00,613.66 L859.00,614.49 L861.00,615.32 L863.00,616.14 L865.00,616.97 L867.00,617.80 L869.00,618.62 L871.00,619.45 L873.00,620.28 L875.00,621.10 L877.00,621.93 L879.00,622.75 L881.00,623.58 L883.00,624.41 L885.00,625.23 L887.00,626.06 L889.00,626.89 L891.00,627.72 L893.00,628.55 L895.00,629.37 L897.00,630.20 L899.00,631.03 L901.00,631.86 L903.00,632.70 L905.00,633.53 L907.00,634.36 L909.00,635.19 L911.00,636.03 L913.00,636.86 L915.00,637.70 L917.00,638.54 L919.00,639.38 L921.00,640.22 L923.00,641.06 L925.00,641.90 L927.00,642.74 L929.00,643.59 L931.00,644.43 L933.00,645.28 L935.00,646.13 L937.00,646.98 L939.00,647.83 L941.00,648.69 L943.00,649.54 L945.00,650.40 L947.00,651.26 L949.00,652.12 L951.00,652.99 L953.00,653.85 L955.00,654.72 L957.00,655.59 L959.00,656.46 L961.00,657.34 L963.00,658.23 L965.00,659.13 L967.00,660.05 L969.00,660.97 L971.00,661.90 L973.00,662.84 L975.00,663.77 L977.00,664.71 L979.00,665.64 L981.00,666.56 L983.00,667.47 L985.00,668.37 L987.00,669.26 L989.00,670.14 L991.00,671.00 L993.00,671.84 L995.00,672.67 L997.00,673.48 L999.00,674.28 L1001.00,675.07 L1003.00,675.85 L1005.00,676.62 L1007.00,677.39 L1009.00,678.16 L1011.00,678.93 L1013.00,679.70 L1015.00,680.48 L1017.00,681.25 L1019.00,682.03 L1021.00,682.80 L1023.00,683.57 L1025.00,684.35 L1027.00,685.12 L1029.00,685.90 L1031.00,686.67 L1033.00,687.45 L1035.00,688.23 L1037.00,689.01 L1039.00,689.79 L1041.00,690.57 L1043.00,691.36 L1045.00,692.14 L1047.00,692.93 L1049.00,693.72 L1051.00,694.52 L1053.00,695.31 L1055.00,696.11 L1057.00,696.91 L1059.00,697.71 L1061.00,698.52 L1063.00,699.33 L1065.00,700.13 L1067.00,700.95 L1069.00,701.76 L1071.00,702.57 L1073.00,703.39 L1075.00,704.20 L1077.00,705.02 L1079.00,705.84 L1081.00,706.66 L1083.00,707.48 L1085.00,708.31 L1087.00,709.13 L1089.00,709.95 L1091.00,710.78 L1093.00,711.60 L1095.00,712.42 L1097.00,713.25 L1099.00,714.07 L1101.00,714.90 L1103.00,715.72 L1105.00,716.55 L1107.00,717.37 L1109.00,718.19 L1111.00,719.02 L1113.00,719.84 L1115.00,720.66 L1117.00,721.48 L1119.00,722.30 L1121.00,723.12 L1123.00,723.94 L1125.00,724.75 L1127.00,725.57 L1129.00,726.38 L1131.00,727.19 L1133.00,728.00 L1135.00,728.81 L1137.00,729.62 L1139.00,730.42 L1141.00,731.23 L1143.00,732.04 L1145.00,732.85 L1147.00,733.67 L1149.00,734.48 L1151.00,735.30 L1153.00,736.12 L1155.00,736.94 L1157.00,737.77 L1159.00,738.60 L1161.00,739.44 L1163.00,740.28 L1165.00,741.13 L1167.00,741.98 L1169.00,742.84 L1171.00,743.71 L1173.00,744.58 L1175.00,745.46 L1177.00,746.35 L1179.00,747.25 L1181.00,748.16 L1183.00,749.08 L1185.00,750.01 L1187.00,750.95 L1189.00,751.90 L1191.00,752.86 L1193.00,753.83 L1195.00,754.81 L1197.00,755.81 L1199.00,756.82 L1201.00,757.85 L1203.00,758.89 L1205.00,759.94 L1207.00,761.00 L1209.00,762.08 L1211.00,763.17 L1213.00,764.28 L1215.00,765.39 L1217.00,766.51 L1219.00,767.64 L1221.00,768.78 L1223.00,769.92 L1225.00,771.07 L1227.00,772.22 L1229.00,773.38 L1231.00,774.55 L1233.00,775.71 L1235.00,776.87 L1237.00,778.04 L1239.00,779.21 L1241.00,780.37 L1243.00,781.54 L1245.00,782.70 L1247.00,783.87 L1249.00,785.03 L1251.00,786.19 L1253.00,787.36 L1255.00,788.52 L1257.00,789.68 L1259.00,790.85 L1261.00,792.01 L1263.00,793.18 L1265.00,794.34 L1267.00,795.51 L1269.00,796.68 L1271.00,797.85 L1273.00,799.02 L1275.00,800.19 L1277.00,801.36 L1279.00,802.53 L1281.00,803.71 L1283.00,804.88 L1285.00,806.06 L1287.00,807.24 L1289.00,808.42 L1291.00,809.60 L1293.00,810.79 L1295.00,811.98 L1297.00,813.17 L1299.00,814.36 L1301.00,815.56 L1303.00,816.75 L1305.00,817.95 L1307.00,819.16 L1309.00,820.36 L1311.00,821.57 L1313.00,822.79 L1315.00,824.00 L1317.00,825.22 L1319.00,826.45 L1321.00,827.68 L1323.00,828.92 L1325.00,830.16 L1327.00,831.40 L1329.00,832.66 L1331.00,833.92 L1333.00,835.18 L1335.00,836.46 L1337.00,837.73 L1339.00,839.02 L1341.00,840.32 L1343.00,841.62 L1345.00,842.93 L1347.00,844.25 L1349.00,845.58 L1351.00,846.92 L1353.00,848.26 L1355.00,849.62 L1357.00,850.99 L1359.00,852.37 L1361.00,853.75 L1363.00,855.15 L1365.00,856.56 L1367.00,857.99 L1369.00,859.42 L1371.00,860.86 L1373.00,862.32 L1375.00,863.79 L1377.00,865.28 L1379.00,866.77 L1381.00,868.29 L1383.00,869.81 L1385.00,871.35 L1387.00,872.90 L1389.00,874.47 L1391.00,876.05 L1393.00,877.65 L1395.00,879.26 L1397.00,880.89 L1399.00,882.54 L1401.00,884.20 L1403.00,885.88 L1405.00,887.58 L1407.00,889.29 L1409.00,891.02 L1411.00,892.77 L1413.00,894.54 L1415.00,896.32 L1417.00,898.13 L1419.00,899.95 L1421.00,901.79 L1423.00,903.66 L1425.00,905.54 L1427.00,907.44 L1429.00,909.37 L1431.00,911.31 L1433.00,913.27 L1435.00,915.26 L1437.00,917.27 L1439.00,919.30 L1441.00,921.35 L1443.00,923.41 L1445.00,925.50 L1447.00,927.61 L1449.00,929.73 L1451.00,931.87 L1453.00,934.03 L1455.00,936.20 L1457.00,938.39 L1459.00,940.59 L1461.00,942.81 L1463.00,945.04 L1465.00,947.29 L1467.00,949.55 L1469.00,951.82 L1471.00,954.11 L1473.00,956.40 L1475.00,958.71 L1477.00,961.03 L1479.00,963.36 L1481.00,965.69 L1483.00,968.04 L1485.00,970.39 L1487.00,972.75 L1489.00,975.12 L1491.00,977.50 L1493.00,979.88 L1495.00,982.27 L1497.00,984.66 L1499.00,987.06 L1501.00,989.46 L1503.00,991.86 L1505.00,994.27 L1507.00,996.68 L1509.00,999.10 L1511.00,1001.51 L1513.00,1003.93 L1515.00,1006.34 L1517.00,1008.76 L1519.00,1011.17 L1521.00,1013.59 L1523.00,1016.00 L1525.00,1018.41 L1527.00,1020.81 L1529.00,1023.22 L1531.00,1025.62 L1533.00,1028.01 L1535.00,1030.40 L1537.00,1032.79 L1539.00,1035.17 L1541.00,1037.54 L1543.00,1039.91 L1545.00,1042.27 L1547.00,1044.64 L1549.00,1046.99 L1551.00,1049.35 L1553.00,1051.71 L1555.00,1054.06 L1557.00,1056.41 L1559.00,1058.77 L1561.00,1061.13 L1563.00,1063.49 L1565.00,1065.85 L1567.00,1068.22 L1569.00,1070.59 L1571.00,1072.96 L1573.00,1075.35 L1575.00,1077.74 L1577.00,1080.13 L1579.00,1082.54 L1581.00,1084.95 L1583.00,1087.37 L1585.00,1089.81 L1587.00,1092.25 L1589.00,1094.71 L1591.00,1097.18 L1593.00,1099.66 L1595.00,1102.15 L1597.00,1104.66 L1599.00,1107.18 L1601.00,1109.71 L1603.00,1112.26 L1605.00,1114.81 L1607.00,1117.38 L1609.00,1119.96 L1611.00,1122.55 L1613.00,1125.15 L1615.00,1127.77 L1617.00,1130.40 L1619.00,1133.04 L1621.00,1135.69 L1623.00,1138.35 L1625.00,1141.02 L1627.00,1143.71 L1629.00,1146.40 L1631.00,1149.11 L1633.00,1151.83 L1635.00,1154.56 L1637.00,1157.30 L1639.00,1160.05 L1641.00,1162.81 L1643.00,1165.59 L1645.00,1168.37 L1647.00,1171.17 L1649.00,1173.97 L1651.00,1176.78 L1653.00,1179.61 L1655.00,1182.44 L1657.00,1185.28 L1659.00,1188.13 L1661.00,1190.99 L1663.00,1193.85 L1665.00,1196.73 L1667.00,1199.61 L1669.00,1202.50 L1671.00,1205.39 L1673.00,1208.29 L1675.00,1211.20 L1677.00,1214.12 L1679.00,1217.04 L1681.00,1219.96 L1683.00,1222.90 L1685.00,1225.83 L1687.00,1228.77 L1689.00,1231.72 L1691.00,1234.67 L1693.00,1237.62 L1695.00,1240.58 L1697.00,1243.54 L1699.00,1246.51 L1701.00,1249.48 L1703.00,1252.45 L1705.00,1255.42 L1707.00,1258.40 L1709.00,1261.37 L1711.00,1264.35 L1713.00,1267.33 L1715.00,1270.31 L1717.00,1273.29 L1719.00,1276.28 L1721.00,1279.26 L1723.00,1282.24 L1725.00,1285.22 L1727.00,1288.21 L1729.00,1291.19 L1731.00,1294.17 L1733.00,1297.14 L1735.00,1300.12 L1737.00,1303.10 L1739.00,1306.07 L1741.00,1309.04 L1743.00,1312.01 L1745.00,1314.97 L1747.00,1317.93 L1749.00,1320.89 L1751.00,1323.85 L1753.00,1326.80 L1755.00,1329.74 L1757.00,1332.68 L1759.00,1335.62 L1761.00,1338.55 L1763.00,1341.48 L1765.00,1344.40 L1767.00,1347.31 L1769.00,1350.22 L1771.00,1353.12 L1771.61,1354.00" stroke="#0000ff" stroke-dasharray="41 38.5" stroke-dashoffset="0.50"/>
<path d="M357.00,228.70 L359.00,229.76 L361.00,230.83 L363.00,231.90 L365.00,232.97 L367.00,234.05 L369.00,235.12 L371.00,236.20 L373.00,237.29 L375.00,238.37 L377.00,239.45 L379.00,240.54 L381.00,241.63 L383.00,242.72 L385.00,243.82 L387.00,244.91 L389.00,246.01 L391.00,247.11 L393.00,248.21 L395.00,249.32 L397.00,250.42 L399.00,251.53 L401.00,252.63 L403.00,253.74 L405.00,254.85 L407.00,255.97 L409.00,257.08 L411.00,258.19 L413.00,259.31 L415.00,260.43 L417.00,261.55 L419.00,262.67 L421.00,263.79 L423.00,264.91 L425.00,266.03 L427.00,267.16 L429.00,268.28 L431.00,269.41 L433.00,270.53 L435.00,271.66 L437.00,272.79 L439.00,273.92 L441.00,275.05 L443.00,276.18 L445.00,277.31 L447.00,278.44 L449.00,279.57 L451.00,280.70 L453.00,281.83 L455.00,282.97 L457.00,284.10 L459.00,285.23 L461.00,286.36 L463.00,287.50 L465.00,288.63 L467.00,289.77 L469.00,290.90 L471.00,292.03 L473.00,293.17 L475.00,294.30 L477.00,295.43 L479.00,296.57 L481.00,297.70 L483.00,298.83 L485.00,299.96 L487.00,301.09 L489.00,302.22 L491.00,303.36 L493.00,304.49 L495.00,305.61 L497.00,306.74 L499.00,307.87 L501.00,309.00 L503.00,310.13 L505.00,311.25 L507.00,312.38 L509.00,313.50 L511.00,314.62 L513.00,315.75 L515.00,316.87 L517.00,317.99 L519.00,319.11 L521.00,320.22 L523.00,321.34 L525.00,322.45 L527.00,323.57 L529.00,324.68 L531.00,325.79 L533.00,326.90 L535.00,328.01 L537.00,329.12 L539.00,330.22 L541.00,331.32 L543.00,332.42 L545.00,333.52 L547.00,334.62 L549.00,335.72 L551.00,336.81 L553.00,337.90 L555.00,339.00 L557.00,340.08 L559.00,341.17 L561.00,342.25 L563.00,343.34 L565.00,344.42 L567.00,345.49 L569.00,346.57 L571.00,347.64 L573.00,348.71 L575.00,349.78 L577.00,350.85 L579.00,351.91 L581.00,352.97 L583.00,354.03 L585.00,355.08 L587.00,356.14 L589.00,357.19 L591.00,358.23 L593.00,359.28 L595.00,360.32 L597.00,361.36 L599.00,362.39 L601.00,363.43 L603.00,364.46 L605.00,365.48 L607.00,366.51 L609.00,367.53 L611.00,368.55 L613.00,369.57 L615.00,370.58 L617.00,371.59 L619.00,372.60 L621.00,373.61 L623.00,374.62 L625.00,375.62 L627.00,376.62 L629.00,377.61 L631.00,378.61 L633.00,379.60 L635.00,380.59 L637.00,381.58 L639.00,382.56 L641.00,383.54 L643.00,384.52 L645.00,385.50 L647.00,386.48 L649.00,387.45 L651.00,388.42 L653.00,389.39 L655.00,390.35 L657.00,391.32 L659.00,392.28 L661.00,393.24 L663.00,394.20 L665.00,395.15 L667.00,396.11 L669.00,397.06 L671.00,398.01 L673.00,398.95 L675.00,399.90 L677.00,400.84 L679.00,401.78 L681.00,402.72 L683.00,403.66 L685.00,404.59 L687.00,405.52 L689.00,406.46 L691.00,407.38 L693.00,408.31 L695.00,409.24 L697.00,410.16 L699.00,411.08 L701.00,412.00 L703.00,412.92 L705.00,413.84 L707.00,414.75 L709.00,415.66 L711.00,416.57 L713.00,417.48 L715.00,418.39 L717.00,419.30 L719.00,420.20 L721.00,421.10 L723.00,422.00 L725.00,422.90 L727.00,423.80 L729.00,424.70 L731.00,425.59 L733.00,426.48 L735.00,427.38 L737.00,428.27 L739.00,429.15 L741.00,430.04 L743.00,430.93 L745.00,431.81 L747.00,432.69 L749.00,433.58 L751.00,434.46 L753.00,435.34 L755.00,436.21 L757.00,437.09 L759.00,437.96 L761.00,438.84 L763.00,439.71 L765.00,440.58 L767.00,441.45 L769.00,442.32 L771.00,443.19 L773.00,444.05 L775.00,444.92 L777.00,445.78 L779.00,446.65 L781.00,447.51 L783.00,448.37 L785.00,449.23 L787.00,450.09 L789.00,450.94 L791.00,451.80 L793.00,452.66 L795.00,453.51 L797.00,454.37 L799.00,455.22 L801.00,456.07 L803.00,456.92 L805.00,457.77 L807.00,458.62 L809.00,459.47 L811.00,460.32 L813.00,461.17 L815.00,462.01 L817.00,462.86 L819.00,463.70 L821.00,464.55 L823.00,465.39 L825.00,466.23 L827.00,467.07 L829.00,467.91 L831.00,468.75 L833.00,469.59 L835.00,470.43 L837.00,471.27 L839.00,472.11 L841.00,472.95 L843.00,473.79 L845.00,474.62 L847.00,475.46 L849.00,476.30 L851.00,477.13 L853.00,477.97 L855.00,478.80 L857.00,479.63 L859.00,480.47 L861.00,481.30 L863.00,482.14 L865.00,482.97 L867.00,483.80 L869.00,484.63 L871.00,485.47 L873.00,486.30 L875.00,487.13 L877.00,487.97 L879.00,488.80 L881.00,489.63 L883.00,490.47 L885.00,491.30 L887.00,492.13 L889.00,492.97 L891.00,493.80 L893.00,494.64 L895.00,495.48 L897.00,496.31 L899.00,497.15 L901.00,497.99 L903.00,498.82 L905.00,499.66 L907.00,500.50 L909.00,501.34 L911.00,502.18 L913.00,503.02 L915.00,503.87 L917.00,504.71 L919.00,505.55 L921.00,506.40 L923.00,507.25 L925.00,508.09 L927.00,508.94 L929.00,509.79 L931.00,510.64 L933.00,511.49 L935.00,512.35 L937.00,513.20 L939.00,514.06 L941.00,514.92 L943.00,515.78 L945.00,516.64 L947.00,517.50 L949.00,518.36 L951.00,519.23 L953.00,520.09 L955.00,520.96 L957.00,521.83 L959.00,522.71 L961.00,523.58 L963.00,524.46 L965.00,525.35 L967.00,526.24 L969.00,527.13 L971.00,528.02 L973.00,528.91 L975.00,529.79 L977.00,530.67 L979.00,531.54 L981.00,532.40 L983.00,533.26 L985.00,534.10 L987.00,534.93 L989.00,535.74 L991.00,536.55 L993.00,537.35 L995.00,538.13 L997.00,538.91 L999.00,539.68 L1001.00,540.44 L1003.00,541.20 L1005.00,541.96 L1007.00,542.73 L1009.00,543.50 L1011.00,544.29 L1013.00,545.08 L1015.00,545.87 L1017.00,546.65 L1019.00,547.44 L1021.00,548.22 L1023.00,549.01 L1025.00,549.79 L1027.00,550.58 L1029.00,551.36 L1031.00,552.14 L1033.00,552.93 L1035.00,553.71 L1037.00,554.49 L1039.00,555.28 L1041.00,556.06 L1043.00,556.84 L1045.00,557.63 L1047.00,558.41 L1049.00,559.19 L1051.00,559.98 L1053.00,560.76 L1055.00,561.54 L1057.00,562.33 L1059.00,563.11 L1061.00,563.90 L1063.00,564.68 L1065.00,565.47 L1067.00,566.26 L1069.00,567.05 L1071.00,567.83 L1073.00,568.62 L1075.00,569.41 L1077.00,570.20 L1079.00,570.99 L1081.00,571.78 L1083.00,572.58 L1085.00,573.37 L1087.00,574.16 L1089.00,574.96 L1091.00,575.76 L1093.00,576.55 L1095.00,577.35 L1097.00,578.15 L1099.00,578.95 L1101.00,579.75 L1103.00,580.56 L1105.00,581.36 L1107.00,582.16 L1109.00,582.97 L1111.00,583.78 L1113.00,584.59 L1115.00,585.40 L1117.00,586.21 L1119.00,587.02 L1121.00,587.83 L1123.00,588.65 L1125.00,589.46 L1127.00,590.28 L1129.00,591.10 L1131.00,591.92 L1133.00,592.74 L1135.00,593.56 L1137.00,594.38 L1139.00,595.21 L1141.00,596.03 L1143.00,596.86 L1145.00,597.69 L1147.00,598.52 L1149.00,599.35 L1151.00,600.18 L1153.00,601.01 L1155.00,601.85 L1157.00,602.68 L1159.00,603.52 L1161.00,604.36 L1163.00,605.19 L1165.00,606.03 L1167.00,606.88 L1169.00,607.72 L1171.00,608.56 L1173.00,609.41 L1175.00,610.25 L1177.00,611.10 L1179.00,611.95 L1181.00,612.80 L1183.00,613.65 L1185.00,614.50 L1187.00,615.36 L1189.00,616.21 L1191.00,617.07 L1193.00,617.92 L1195.00,618.78 L1197.00,619.64 L1199.00,620.50 L1201.00,621.37 L1203.00,622.23 L1205.00,623.09 L1207.00,623.96 L1209.00,624.83 L1211.00,625.70 L1213.00,626.56 L1215.00,627.44 L1217.00,628.31 L1219.00,629.18 L1221.00,630.06 L1223.00,630.93 L1225.00,631.81 L1227.00,632.69 L1229.00,633.57 L1231.00,634.45 L1233.00,635.33 L1235.00,636.22 L1237.00,637.10 L1239.00,637.99 L1241.00,638.87 L1243.00,639.76 L1245.00,640.65 L1247.00,641.54 L1249.00,642.44 L1251.00,643.33 L1253.00,644.23 L1255.00,645.12 L1257.00,646.02 L1259.00,646.92 L1261.00,647.82 L1263.00,648.72 L1265.00,649.62 L1267.00,650.53 L1269.00,651.43 L1271.00,652.34 L1273.00,653.25 L1275.00,654.16 L1277.00,655.07 L1279.00,655.98 L1281.00,656.89 L1283.00,657.81 L1285.00,658.73 L1287.00,659.65 L1289.00,660.57 L1291.00,661.49 L1293.00,662.42 L1295.00,663.35 L1297.00,664.29 L1299.00,665.22 L1301.00,666.16 L1303.00,667.11 L1305.00,668.06 L1307.00,669.01 L1309.00,669.97 L1311.00,670.93 L1313.00,671.90 L1315.00,672.87 L1317.00,673.85 L1319.00,674.83 L1321.00,675.82 L1323.00,676.81 L1325.00,677.81 L1327.00,678.82 L1329.00,679.83 L1331.00,680.85 L1333.00,681.88 L1335.00,682.91 L1337.00,683.95 L1339.00,685.00 L1341.00,686.06 L1343.00,687.12 L1345.00,688.19 L1347.00,689.27 L1349.00,690.36 L1351.00,691.46 L1353.00,692.57 L1355.00,693.68 L1357.00,694.81 L1359.00,695.94 L1361.00,697.09 L1363.00,698.24 L1365.00,699.41 L1367.00,700.58 L1369.00,701.77 L1371.00,702.97 L1373.00,704.17 L1375.00,705.39 L1377.00,706.62 L1379.00,707.86 L1381.00,709.12 L1383.00,710.38 L1385.00,711.66 L1387.00,712.95 L1389.00,714.25 L1391.00,715.57 L1393.00,716.90 L1395.00,718.24 L1397.00,719.59 L1399.00,720.96 L1401.00,722.34 L1403.00,723.74 L1405.00,725.15 L1407.00,726.58 L1409.00,728.01 L1411.00,729.47 L1413.00,730.94 L1415.00,732.42 L1417.00,733.92 L1419.00,735.44 L1421.00,736.97 L1423.00,738.52 L1425.00,740.08 L1427.00,741.66 L1429.00,743.26 L1431.00,744.88 L1433.00,746.51 L1435.00,748.16 L1437.00,749.82 L1439.00,751.51 L1441.00,753.21 L1443.00,754.93 L1445.00,756.67 L1447.00,758.42 L1449.00,760.20 L1451.00,761.99 L1453.00,763.81 L1455.00,765.64 L1457.00,767.49 L1459.00,769.36 L1461.00,771.25 L1463.00,773.17 L1465.00,775.10 L1467.00,777.05 L1469.00,779.03 L1471.00,781.02 L1473.00,783.04 L1475.00,785.07 L1477.00,787.13 L1479.00,789.21 L1481.00,791.31 L1483.00,793.43 L1485.00,795.56 L1487.00,797.72 L1489.00,799.89 L1491.00,802.08 L1493.00,804.29 L1495.00,806.51 L1497.00,808.75 L1499.00,811.00 L1501.00,813.27 L1503.00,815.55 L1505.00,817.85 L1507.00,820.16 L1509.00,822.48 L1511.00,824.81 L1513.00,827.15 L1515.00,829.51 L1517.00,831.87 L1519.00,834.25 L1521.00,836.63 L1523.00,839.02 L1525.00,841.42 L1527.00,843.82 L1529.00,846.24 L1531.00,848.65 L1533.00,851.08 L1535.00,853.51 L1537.00,855.94 L1539.00,858.38 L1541.00,860.82 L1543.00,863.27 L1545.00,865.71 L1547.00,868.16 L1549.00,870.61 L1551.00,873.06 L1553.00,875.51 L1555.00,877.96 L1557.00,880.41 L1559.00,882.86 L1561.00,885.30 L1563.00,887.75 L1565.00,890.19 L1567.00,892.63 L1569.00,895.07 L1571.00,897.50 L1573.00,899.93 L1575.00,902.35 L1577.00,904.77 L1579.00,907.19 L1581.00,909.59 L1583.00,912.00 L1585.00,914.39 L1587.00,916.78 L1589.00,919.16 L1591.00,921.54 L1593.00,923.90 L1595.00,926.26 L1597.00,928.61 L1599.00,930.95 L1601.00,933.28 L1603.00,935.60 L1605.00,937.91 L1607.00,940.21 L1609.00,942.51 L1611.00,944.80 L1613.00,947.08 L1615.00,949.37 L1617.00,951.66 L1619.00,953.94 L1621.00,956.23 L1623.00,958.53 L1625.00,960.83 L1627.00,963.14 L1629.00,965.46 L1631.00,967.79 L1633.00,970.14 L1635.00,972.50 L1637.00,974.87 L1639.00,977.27 L1641.00,979.68 L1643.00,982.12 L1645.00,984.58 L1647.00,987.07 L1649.00,989.58 L1651.00,992.12 L1653.00,994.69 L1655.00,997.29 L1657.00,999.93 L1659.00,1002.59 L1661.00,1005.29 L1663.00,1008.01 L1665.00,1010.76 L1667.00,1013.54 L1669.00,1016.34 L1671.00,1019.17 L1673.00,1022.03 L1675.00,1024.90 L1677.00,1027.80 L1679.00,1030.72 L1681.00,1033.66 L1683.00,1036.61 L1685.00,1039.55 L1687.00,1042.50 L1689.00,1045.43 L1691.00,1048.34 L1693.00,1051.23 L1695.00,1054.08 L1697.00,1056.89 L1699.00,1059.66 L1701.00,1062.37 L1703.00,1065.04 L1705.00,1067.66 L1707.00,1070.25 L1709.00,1072.83 L1711.00,1075.40 L1713.00,1077.98 L1715.00,1080.58 L1717.00,1083.21 L1719.00,1085.88 L1721.00,1088.60 L1723.00,1091.39 L1725.00,1094.26 L1727.00,1097.20 L1729.00,1100.21 L1731.00,1103.28 L1733.00,1106.40 L1735.00,1109.57 L1737.00,1112.77 L1739.00,1116.01 L1741.00,1119.26 L1743.00,1122.53 L1745.00,1125.80 L1747.00,1129.07 L1749.00,1132.33 L1751.00,1135.58 L1753.00,1138.79 L1755.00,1141.98 L1757.00,1145.12 L1759.00,1148.23 L1761.00,1151.29 L1763.00,1154.34 L1765.00,1157.37 L1767.00,1160.39 L1769.00,1163.43 L1771.00,1166.48 L1773.00,1169.55 L1775.00,1172.65 L1777.00,1175.76 L1779.00,1178.89 L1781.00,1182.04 L1783.00,1185.20 L1785.00,1188.37 L1787.00,1191.56 L1789.00,1194.75 L1791.00,1197.96 L1793.00,1201.17 L1795.00,1204.38 L1797.00,1207.61 L1799.00,1210.83 L1801.00,1214.06 L1803.00,1217.28 L1805.00,1220.51 L1807.00,1223.73 L1809.00,1226.94 L1811.00,1230.15 L1813.00,1233.36 L1815.00,1236.55 L1817.00,1239.74 L1819.00,1242.91 L1821.00,1246.07 L1823.00,1249.21 L1825.00,1252.34 L1827.00,1255.45 L1829.00,1258.54 L1831.00,1261.61 L1833.00,1264.66 L1835.00,1267.69 L1837.00,1270.69 L1839.00,1273.66 L1841.00,1276.61 L1843.00,1279.52 L1845.00,1282.41 L1847.00,1285.26 L1849.00,1288.09 L1851.00,1290.87 L1853.00,1293.62 L1855.00,1296.33 L1857.00,1299.00" stroke="#ff0000" stroke-dasharray="41 9.5 20.5 8.5" stroke-dashoffset="1.00"/>
<path d="M357.00,365.63 L359.00,366.68 L361.00,367.74 L363.00,368.80 L365.00,369.86 L367.00,370.92 L369.00,371.99 L371.00,373.05 L373.00,374.12 L375.00,375.19 L377.00,376.26 L379.00,377.33 L381.00,378.41 L383.00,379.48 L385.00,380.56 L387.00,381.64 L389.00,382.72 L391.00,383.81 L393.00,384.89 L395.00,385.98 L397.00,387.06 L399.00,388.15 L401.00,389.24 L403.00,390.33 L405.00,391.42 L407.00,392.52 L409.00,393.61 L411.00,394.70 L413.00,395.80 L415.00,396.90 L417.00,398.00 L419.00,399.10 L421.00,400.20 L423.00,401.30 L425.00,402.40 L427.00,403.50 L429.00,404.61 L431.00,405.71 L433.00,406.81 L435.00,407.92 L437.00,409.03 L439.00,410.13 L441.00,411.24 L443.00,412.35 L445.00,413.45 L447.00,414.56 L449.00,415.67 L451.00,416.78 L453.00,417.89 L455.00,419.00 L457.00,420.11 L459.00,421.22 L461.00,422.33 L463.00,423.44 L465.00,424.55 L467.00,425.66 L469.00,426.77 L471.00,427.88 L473.00,428.99 L475.00,430.10 L477.00,431.21 L479.00,432.31 L481.00,433.42 L483.00,434.53 L485.00,435.64 L487.00,436.75 L489.00,437.85 L491.00,438.96 L493.00,440.07 L495.00,441.17 L497.00,442.28 L499.00,443.38 L501.00,444.49 L503.00,445.59 L505.00,446.69 L507.00,447.79 L509.00,448.89 L511.00,449.99 L513.00,451.09 L515.00,452.19 L517.00,453.29 L519.00,454.38 L521.00,455.48 L523.00,456.57 L525.00,457.66 L527.00,458.75 L529.00,459.84 L531.00,460.93 L533.00,462.02 L535.00,463.11 L537.00,464.19 L539.00,465.27 L541.00,466.36 L543.00,467.44 L545.00,468.52 L547.00,469.59 L549.00,470.67 L551.00,471.74 L553.00,472.81 L555.00,473.88 L557.00,474.95 L559.00,476.02 L561.00,477.08 L563.00,478.15 L565.00,479.21 L567.00,480.27 L569.00,481.33 L571.00,482.38 L573.00,483.43 L575.00,484.48 L577.00,485.53 L579.00,486.58 L581.00,487.62 L583.00,488.66 L585.00,489.70 L587.00,490.74 L589.00,491.78 L591.00,492.81 L593.00,493.84 L595.00,494.87 L597.00,495.89 L599.00,496.91 L601.00,497.93 L603.00,498.95 L605.00,499.97 L607.00,500.98 L609.00,501.99 L611.00,503.00 L613.00,504.00 L615.00,505.01 L617.00,506.01 L619.00,507.01 L621.00,508.00 L623.00,509.00 L625.00,509.99 L627.00,510.98 L629.00,511.97 L631.00,512.95 L633.00,513.94 L635.00,514.92 L637.00,515.90 L639.00,516.88 L641.00,517.85 L643.00,518.82 L645.00,519.79 L647.00,520.76 L649.00,521.73 L651.00,522.69 L653.00,523.66 L655.00,524.62 L657.00,525.57 L659.00,526.53 L661.00,527.48 L663.00,528.44 L665.00,529.39 L667.00,530.34 L669.00,531.28 L671.00,532.23 L673.00,533.17 L675.00,534.11 L677.00,535.05 L679.00,535.99 L681.00,536.92 L683.00,537.86 L685.00,538.79 L687.00,539.72 L689.00,540.64 L691.00,541.57 L693.00,542.50 L695.00,543.42 L697.00,544.34 L699.00,545.26 L701.00,546.18 L703.00,547.09 L705.00,548.01 L707.00,548.92 L709.00,549.83 L711.00,550.74 L713.00,551.65 L715.00,552.55 L717.00,553.46 L719.00,554.36 L721.00,555.26 L723.00,556.16 L725.00,557.06 L727.00,557.96 L729.00,558.85 L731.00,559.74 L733.00,560.64 L735.00,561.53 L737.00,562.42 L739.00,563.30 L741.00,564.19 L743.00,565.08 L745.00,565.96 L747.00,566.84 L749.00,567.72 L751.00,568.60 L753.00,569.48 L755.00,570.36 L757.00,571.23 L759.00,572.11 L761.00,572.98 L763.00,573.85 L765.00,574.72 L767.00,575.59 L769.00,576.46 L771.00,577.33 L773.00,578.19 L775.00,579.06 L777.00,579.92 L779.00,580.78 L781.00,581.64 L783.00,582.50 L785.00,583.36 L787.00,584.22 L789.00,585.08 L791.00,585.93 L793.00,586.79 L795.00,587.64 L797.00,588.49 L799.00,589.34 L801.00,590.19 L803.00,591.04 L805.00,591.89 L807.00,592.74 L809.00,593.59 L811.00,594.43 L813.00,595.28 L815.00,596.12 L817.00,596.96 L819.00,597.81 L821.00,598.65 L823.00,599.49 L825.00,600.33 L827.00,601.17 L829.00,602.00 L831.00,602.84 L833.00,603.68 L835.00,604.51 L837.00,605.35 L839.00,606.18 L841.00,607.02 L843.00,607.85 L845.00,608.68 L847.00,609.51 L849.00,610.34 L851.00,611.17 L853.00,612.00 L855.00,612.83 L857.00,613.66 L859.00,614.49 L861.00,615.32 L863.00,616.14 L865.00,616.97 L867.00,617.80 L869.00,618.62 L871.00,619.45 L873.00,620.28 L875.00,621.10 L877.00,621.93 L879.00,622.75 L881.00,623.58 L883.00,624.41 L885.00,625.23 L887.00,626.06 L889.00,626.89 L891.00,627.72 L893.00,628.55 L895.00,629.37 L897.00,630.20 L899.00,631.03 L901.00,631.86 L903.00,632.70 L905.00,633.53 L907.00,634.36 L909.00,635.19 L911.00,636.03 L913.00,636.86 L915.00,637.70 L917.00,638.54 L919.00,639.38 L921.00,640.22 L923.00,641.06 L925.00,641.90 L927.00,642.74 L929.00,643.59 L931.00,644.43 L933.00,645.28 L935.00,646.13 L937.00,646.98 L939.00,647.83 L941.00,648.69 L943.00,649.54 L945.00,650.40 L947.00,651.26 L949.00,652.12 L951.00,652.99 L953.00,653.85 L955.00,654.72 L957.00,655.59 L959.00,656.46 L961.00,657.34 L963.00,658.22 L965.00,659.11 L967.00,660.02 L969.00,660.92 L971.00,661.83 L973.00,662.75 L975.00,663.66 L977.00,664.57 L979.00,665.48 L981.00,666.39 L983.00,667.29 L985.00,668.18 L987.00,669.06 L989.00,669.94 L991.00,670.80 L993.00,671.66 L995.00,672.50 L997.00,673.33 L999.00,674.16 L1001.00,674.97 L1003.00,675.78 L1005.00,676.58 L1007.00,677.38 L1009.00,678.18 L1011.00,678.99 L1013.00,679.79 L1015.00,680.59 L1017.00,681.39 L1019.00,682.19 L1021.00,682.99 L1023.00,683.78 L1025.00,684.58 L1027.00,685.37 L1029.00,686.16 L1031.00,686.95 L1033.00,687.74 L1035.00,688.53 L1037.00,689.32 L1039.00,690.11 L1041.00,690.89 L1043.00,691.68 L1045.00,692.47 L1047.00,693.25 L1049.00,694.04 L1051.00,694.82 L1053.00,695.61 L1055.00,696.40 L1057.00,697.18 L1059.00,697.97 L1061.00,698.76 L1063.00,699.54 L1065.00,700.33 L1067.00,701.12 L1069.00,701.91 L1071.00,702.70 L1073.00,703.49 L1075.00,704.28 L1077.00,705.07 L1079.00,705.86 L1081.00,706.65 L1083.00,707.45 L1085.00,708.24 L1087.00,709.04 L1089.00,709.83 L1091.00,710.63 L1093.00,711.43 L1095.00,712.23 L1097.00,713.04 L1099.00,713.84 L1101.00,714.65 L1103.00,715.45 L1105.00,716.26 L1107.00,717.07 L1109.00,717.88 L1111.00,718.70 L1113.00,719.51 L1115.00,720.33 L1117.00,721.15 L1119.00,721.97 L1121.00,722.80 L1123.00,723.62 L1125.00,724.45 L1127.00,725.28 L1129.00,726.12 L1131.00,726.95 L1133.00,727.79 L1135.00,728.63 L1137.00,729.48 L1139.00,730.32 L1141.00,731.17 L1143.00,732.02 L1145.00,732.88 L1147.00,733.74 L1149.00,734.60 L1151.00,735.46 L1153.00,736.33 L1155.00,737.20 L1157.00,738.07 L1159.00,738.95 L1161.00,739.83 L1163.00,740.71 L1165.00,741.60 L1167.00,742.49 L1169.00,743.39 L1171.00,744.28 L1173.00,745.18 L1175.00,746.09 L1177.00,746.99 L1179.00,747.90 L1181.00,748.81 L1183.00,749.72 L1185.00,750.64 L1187.00,751.55 L1189.00,752.47 L1191.00,753.38 L1193.00,754.30 L1195.00,755.22 L1197.00,756.14 L1199.00,757.06 L1201.00,757.97 L1203.00,758.89 L1205.00,759.81 L1207.00,760.72 L1209.00,761.64 L1211.00,762.55 L1213.00,763.46 L1215.00,764.37 L1217.00,765.28 L1219.00,766.19 L1221.00,767.09 L1223.00,767.99 L1225.00,768.89 L1227.00,769.78 L1229.00,770.67 L1231.00,771.56 L1233.00,772.44 L1235.00,773.32 L1237.00,774.20 L1239.00,775.07 L1241.00,775.93 L1243.00,776.79 L1245.00,777.65 L1247.00,778.50 L1249.00,779.36 L1251.00,780.20 L1253.00,781.05 L1255.00,781.89 L1257.00,782.74 L1259.00,783.58 L1261.00,784.42 L1263.00,785.26 L1265.00,786.10 L1267.00,786.94 L1269.00,787.78 L1271.00,788.62 L1273.00,789.46 L1275.00,790.31 L1277.00,791.16 L1279.00,792.00 L1281.00,792.86 L1283.00,793.71 L1285.00,794.57 L1287.00,795.43 L1289.00,796.30 L1291.00,797.17 L1293.00,798.05 L1295.00,798.93 L1297.00,799.82 L1299.00,800.71 L1301.00,801.61 L1303.00,802.52 L1305.00,803.44 L1307.00,804.36 L1309.00,805.29 L1311.00,806.23 L1313.00,807.18 L1315.00,808.13 L1317.00,809.10 L1319.00,810.07 L1321.00,811.06 L1323.00,812.06 L1325.00,813.06 L1327.00,814.08 L1329.00,815.11 L1331.00,816.15 L1333.00,817.21 L1335.00,818.28 L1337.00,819.36 L1339.00,820.45 L1341.00,821.56 L1343.00,822.68 L1345.00,823.82 L1347.00,824.97 L1349.00,826.14 L1351.00,827.32 L1353.00,828.52 L1355.00,829.73 L1357.00,830.96 L1359.00,832.20 L1361.00,833.46 L1363.00,834.74 L1365.00,836.03 L1367.00,837.34 L1369.00,838.67 L1371.00,840.01 L1373.00,841.37 L1375.00,842.75 L1377.00,844.14 L1379.00,845.55 L1381.00,846.97 L1383.00,848.42 L1385.00,849.88 L1387.00,851.35 L1389.00,852.85 L1391.00,854.36 L1393.00,855.89 L1395.00,857.43 L1397.00,859.00 L1399.00,860.58 L1401.00,862.18 L1403.00,863.80 L1405.00,865.44 L1407.00,867.09 L1409.00,868.76 L1411.00,870.45 L1413.00,872.16 L1415.00,873.89 L1417.00,875.64 L1419.00,877.41 L1421.00,879.19 L1423.00,880.99 L1425.00,882.82 L1427.00,884.66 L1429.00,886.52 L1431.00,888.40 L1433.00,890.30 L1435.00,892.22 L1437.00,894.16 L1439.00,896.12 L1441.00,898.09 L1443.00,900.09 L1445.00,902.11 L1447.00,904.15 L1449.00,906.21 L1451.00,908.28 L1453.00,910.38 L1455.00,912.49 L1457.00,914.62 L1459.00,916.76 L1461.00,918.93 L1463.00,921.11 L1465.00,923.31 L1467.00,925.52 L1469.00,927.75 L1471.00,930.00 L1473.00,932.26 L1475.00,934.53 L1477.00,936.82 L1479.00,939.13 L1481.00,941.44 L1483.00,943.78 L1485.00,946.12 L1487.00,948.48 L1489.00,950.85 L1491.00,953.23 L1493.00,955.63 L1495.00,958.03 L1497.00,960.45 L1499.00,962.88 L1501.00,965.32 L1503.00,967.77 L1505.00,970.23 L1507.00,972.70 L1509.00,975.18 L1511.00,977.67 L1513.00,980.16 L1515.00,982.67 L1517.00,985.18 L1519.00,987.70 L1521.00,990.23 L1523.00,992.77 L1525.00,995.31 L1527.00,997.86 L1529.00,1000.41 L1531.00,1002.97 L1533.00,1005.54 L1535.00,1008.11 L1537.00,1010.69 L1539.00,1013.27 L1541.00,1015.85 L1543.00,1018.44 L1545.00,1021.04 L1547.00,1023.63 L1549.00,1026.23 L1551.00,1028.83 L1553.00,1031.44 L1555.00,1034.04 L1557.00,1036.65 L1559.00,1039.26 L1561.00,1041.87 L1563.00,1044.48 L1565.00,1047.09 L1567.00,1049.70 L1569.00,1052.31 L1571.00,1054.92 L1573.00,1057.53 L1575.00,1060.14 L1577.00,1062.76 L1579.00,1065.37 L1581.00,1067.99 L1583.00,1070.61 L1585.00,1073.23 L1587.00,1075.85 L1589.00,1078.48 L1591.00,1081.12 L1593.00,1083.76 L1595.00,1086.40 L1597.00,1089.06 L1599.00,1091.71 L1601.00,1094.38 L1603.00,1097.05 L1605.00,1099.73 L1607.00,1102.42 L1609.00,1105.12 L1611.00,1107.82 L1613.00,1110.54 L1615.00,1113.27 L1617.00,1116.01 L1619.00,1118.76 L1621.00,1121.52 L1623.00,1124.29 L1625.00,1127.08 L1627.00,1129.88 L1629.00,1132.69 L1631.00,1135.52 L1633.00,1138.36 L1635.00,1141.22 L1637.00,1144.09 L1639.00,1146.97 L1641.00,1149.86 L1643.00,1152.77 L1645.00,1155.70 L1647.00,1158.63 L1649.00,1161.58 L1651.00,1164.53 L1653.00,1167.50 L1655.00,1170.48 L1657.00,1173.47 L1659.00,1176.48 L1661.00,1179.49 L1663.00,1182.51 L1665.00,1185.54 L1667.00,1188.58 L1669.00,1191.63 L1671.00,1194.69 L1673.00,1197.76 L1675.00,1200.83 L1677.00,1203.92 L1679.00,1207.01 L1681.00,1210.10 L1683.00,1213.21 L1685.00,1216.32 L1687.00,1219.44 L1689.00,1222.56 L1691.00,1225.68 L1693.00,1228.82 L1695.00,1231.95 L1697.00,1235.09 L1699.00,1238.24 L1701.00,1241.39 L1703.00,1244.54 L1705.00,1247.69 L1707.00,1250.84 L1709.00,1254.00 L1711.00,1257.16 L1713.00,1260.32 L1715.00,1263.47 L1717.00,1266.63 L1719.00,1269.79 L1721.00,1272.95 L1723.00,1276.11 L1725.00,1279.27 L1727.00,1282.42 L1729.00,1285.57 L1731.00,1288.72 L1733.00,1291.87 L1735.00,1295.01 L1737.00,1298.15 L1739.00,1301.29 L1741.00,1304.42 L1743.00,1307.55 L1745.00,1310.67 L1747.00,1313.78 L1749.00,1316.89 L1751.00,1320.00 L1753.00,1323.09 L1755.00,1326.18 L1757.00,1329.27 L1759.00,1332.34 L1761.00,1335.41 L1763.00,1338.46 L1765.00,1341.51 L1767.00,1344.56 L1769.00,1347.59 L1771.00,1350.61 L1773.00,1353.62 L1773.25,1354.00" stroke="#0000ff" stroke-dasharray="41 9.5 20.5 8.5" stroke-dashoffset="1.00"/>
</g>
<g stroke="#212121" stroke-width="4" fill="none">
<rect x="357.0" y="129.5" width="1500.0" height="1224.5" fill="none" stroke="#212121" stroke-width="4"/>
<line x1="357.0" y1="1354.0" x2="357.0" y2="1337.0" />
<line x1="357.0" y1="129.5" x2="357.0" y2="146.5" />
<line x1="607.0" y1="1354.0" x2="607.0" y2="1337.0" />
<line x1="607.0" y1="129.5" x2="607.0" y2="146.5" />
<line x1="857.0" y1="1354.0" x2="857.0" y2="1337.0" />
<line x1="857.0" y1="129.5" x2="857.0" y2="146.5" />
<line x1="1107.0" y1="1354.0" x2="1107.0" y2="1337.0" />
<line x1="1107.0" y1="129.5" x2="1107.0" y2="146.5" />
<line x1="1357.0" y1="1354.0" x2="1357.0" y2="1337.0" />
<line x1="1357.0" y1="129.5" x2="1357.0" y2="146.5" />
<line x1="1607.0" y1="1354.0" x2="1607.0" y2="1337.0" />
<line x1="1607.0" y1="129.5" x2="1607.0" y2="146.5" />
<line x1="1857.0" y1="1354.0" x2="1857.0" y2="1337.0" />
<line x1="1857.0" y1="129.5" x2="1857.0" y2="146.5" />
<line x1="357.0" y1="1354.0" x2="374.0" y2="1354.0" />
<line x1="1857.0" y1="1354.0" x2="1840.0" y2="1354.0" />
<line x1="357.0" y1="945.8333333333333" x2="374.0" y2="945.8333333333333" />
<line x1="1857.0" y1="945.8333333333333" x2="1840.0" y2="945.8333333333333" />
<line x1="357.0" y1="537.6666666666666" x2="374.0" y2="537.6666666666666" />
<line x1="1857.0" y1="537.6666666666666" x2="1840.0" y2="537.6666666666666" />
<line x1="357.0" y1="129.5" x2="374.0" y2="129.5" />
<line x1="1857.0" y1="129.5" x2="1840.0" y2="129.5" />
</g>
<g>
<text x="292.01" y="1477.9" font-size="82">10</text>
<text x="371.51" y="1436.90" font-size="58">-6</text>
<text x="540.11" y="1477.9" font-size="82">10</text>
<text x="619.61" y="1436.90" font-size="58">-4</text>
<text x="793.01" y="1477.9" font-size="82">10</text>
<text x="872.51" y="1436.90" font-size="58">-2</text>
<text x="1050.81" y="1477.9" font-size="82">10</text>
<text x="1130.31" y="1436.90" font-size="58">0</text>
<text x="1300.61" y="1477.9" font-size="82">10</text>
<text x="1380.11" y="1436.90" font-size="58">2</text>
<text x="1553.31" y="1477.9" font-size="82">10</text>
<text x="1632.81" y="1436.90" font-size="58">4</text>
<text x="1801.31" y="1477.9" font-size="82">10</text>
<text x="1880.81" y="1436.90" font-size="58">6</text>
<text x="217.20" y="168.70" font-size="82">10</text>
<text x="296.70" y="127.70" font-size="58">3</text>
<text x="217.20" y="576.87" font-size="82">10</text>
<text x="296.70" y="535.87" font-size="58">1</text>
<text x="197.30" y="985.03" font-size="82">10</text>
<text x="276.80" y="944.03" font-size="58">-1</text>
<text x="197.30" y="1393.20" font-size="82">10</text>
<text x="276.80" y="1352.20" font-size="58">-3</text>
<text x="817.06" y="1582.30" font-size="85" font-style="italic">t</text>
<text x="842.79" y="1622.30" font-size="62" font-style="italic">cg</text>
<text x="908.66" y="1582.30" font-size="85">,</text>
<text x="950.53" y="1582.30" font-size="85">day;</text>
<text x="1120.16" y="1582.30" font-size="85" font-style="italic">t</text>
<text x="1145.99" y="1622.30" font-size="62" font-style="italic">cw</text>
<text x="1221.86" y="1582.30" font-size="85">,</text>
<text x="1262.93" y="1582.30" font-size="85">day</text>
<g transform="translate(123,1470.0) rotate(-90)"><text x="6.58" y="0.00" font-size="85" font-style="italic">q</text><text x="48.41" y="40.00" font-size="62">N</text><text x="94.67" y="40.00" font-size="62" font-style="italic">g</text><text x="132.26" y="0.00" font-size="85">,</text><text x="172.02" y="0.00" font-size="85">m</text><text x="240.13" y="-39.60" font-size="62">3</text><text x="276.50" y="0.00" font-size="85">/d/</text><text x="385.25" y="0.00" font-size="85">MPa</text><text x="548.58" y="-39.60" font-size="62">2</text><text x="586.00" y="0.00" font-size="85">/mPa.s;</text><text x="857.38" y="0.00" font-size="85" font-style="italic">q</text><text x="899.91" y="40.00" font-size="62">N</text><text x="949.32" y="40.00" font-size="62" font-style="italic">w</text><text x="993.66" y="0.00" font-size="85">,</text><text x="1033.62" y="0.00" font-size="85">m</text><text x="1101.83" y="-39.60" font-size="62">3</text><text x="1137.60" y="0.00" font-size="85">/d/</text><text x="1245.55" y="0.00" font-size="85">MPa</text><text x="1409.38" y="-39.60" font-size="62">2</text></g>
</g>
<g>
<line x1="452" y1="882.5" x2="603" y2="882.5" stroke="#ff0000" stroke-width="11"/><text x="616.12" y="891.80" font-size="75" font-style="italic" style="fill:#000">x</text><text x="641.58" y="926.80" font-size="55" font-style="italic" style="fill:#000">f</text><text x="669.36" y="891.80" font-size="75" style="fill:#000">=50m, gas</text>
<line x1="452" y1="1005.3" x2="603" y2="1005.3" stroke="#0000ff" stroke-width="11"/><text x="616.12" y="1017.00" font-size="75" font-style="italic" style="fill:#000">x</text><text x="641.58" y="1052.00" font-size="55" font-style="italic" style="fill:#000">f</text><text x="669.36" y="1017.00" font-size="75" style="fill:#000">=50m, water</text>
<line x1="452" y1="1128.2" x2="603" y2="1128.2" stroke="#ff0000" stroke-width="11" stroke-dasharray="41 39"/><text x="616.12" y="1137.50" font-size="75" font-style="italic" style="fill:#000">x</text><text x="641.58" y="1172.50" font-size="55" font-style="italic" style="fill:#000">f</text><text x="669.36" y="1137.50" font-size="75" style="fill:#000">=100m, gas</text>
<line x1="452" y1="1251.5" x2="603" y2="1251.5" stroke="#0000ff" stroke-width="11" stroke-dasharray="41 39"/><text x="616.12" y="1262.00" font-size="75" font-style="italic" style="fill:#000">x</text><text x="641.58" y="1297.00" font-size="55" font-style="italic" style="fill:#000">f</text><text x="669.36" y="1262.00" font-size="75" style="fill:#000">=100m, water</text>
<line x1="1180" y1="253" x2="1331" y2="253" stroke="#ff0000" stroke-width="11" stroke-dasharray="41 9 21 10"/><text x="1344.62" y="261.50" font-size="75" font-style="italic" style="fill:#000">x</text><text x="1370.58" y="296.50" font-size="55" font-style="italic" style="fill:#000">f</text><text x="1397.86" y="261.50" font-size="75" style="fill:#000">=150m, gas</text>
<line x1="1180" y1="376.5" x2="1331" y2="376.5" stroke="#0000ff" stroke-width="11" stroke-dasharray="41 9 21 10"/><text x="1344.62" y="387.40" font-size="75" font-style="italic" style="fill:#000">x</text><text x="1370.58" y="422.40" font-size="55" font-style="italic" style="fill:#000">f</text><text x="1397.86" y="387.40" font-size="75" style="fill:#000">=150m, water</text>
</g>
</svg>
</body></html>
